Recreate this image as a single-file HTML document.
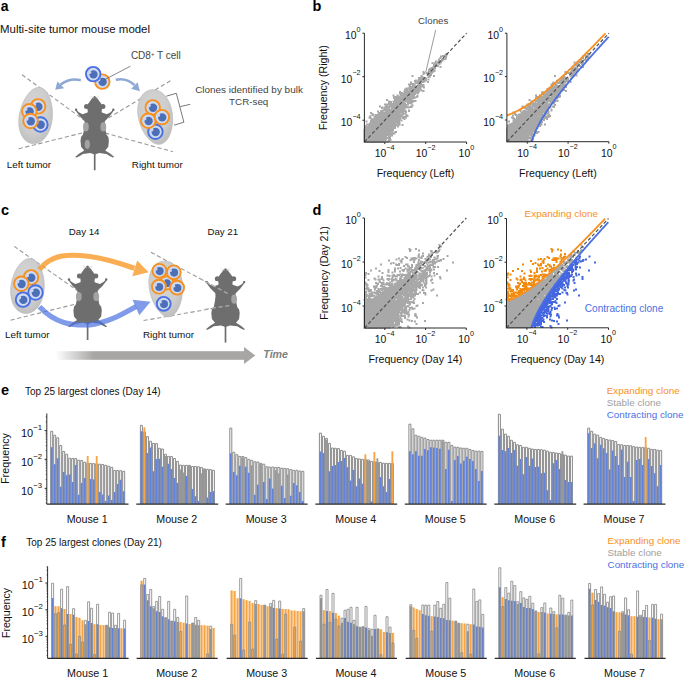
<!DOCTYPE html><html><head><meta charset="utf-8"><title>Figure</title><style>html,body{margin:0;padding:0;background:#fff;width:685px;height:677px;overflow:hidden;}svg{display:block;font-family:"Liberation Sans",sans-serif;}</style></head><body><svg width="685" height="677" viewBox="0 0 685 677" font-family='"Liberation Sans", sans-serif'><defs><radialGradient id="tum" cx="0.45" cy="0.4" r="0.6"><stop offset="0" stop-color="#d6d6d6"/><stop offset="0.7" stop-color="#cdcdcd"/><stop offset="1" stop-color="#c0c0c0"/></radialGradient><linearGradient id="timeg" x1="0" x2="1" y1="0" y2="0"><stop offset="0" stop-color="#a8a5a5" stop-opacity="0"/><stop offset="0.2" stop-color="#a8a5a5" stop-opacity="1"/><stop offset="1" stop-color="#a8a5a5"/></linearGradient><clipPath id="clipA"><rect x="0" y="0" width="310" height="200"/></clipPath></defs><text x="0.8" y="10.8" font-size="14" fill="#000" text-anchor="start" font-weight="bold" font-style="normal" >a</text>
<text x="0" y="32.8" font-size="11.45" fill="#111" text-anchor="start" font-weight="normal" font-style="normal" >Multi-site tumor mouse model</text>
<line x1="22" y1="74.8" x2="84" y2="120" stroke="#999" stroke-width="1.1" stroke-dasharray="4.2,2.6" />
<line x1="18.6" y1="148.8" x2="82" y2="133" stroke="#999" stroke-width="1.1" stroke-dasharray="4.2,2.6" />
<line x1="170.4" y1="80.8" x2="105" y2="120" stroke="#999" stroke-width="1.1" stroke-dasharray="4.2,2.6" />
<line x1="105" y1="133" x2="173" y2="151.7" stroke="#999" stroke-width="1.1" stroke-dasharray="4.2,2.6" />
<path d="M52.34,117.8 L51.9,121.46 L51.17,125.03 L50.17,128.43 L48.89,131.6 L47.35,134.49 L45.59,137.05 L43.61,139.24 L41.47,141.02 L39.19,142.35 L36.83,143.22 L34.44,143.61 L32.06,143.52 L29.75,142.96 L27.56,141.92 L25.53,140.43 L23.71,138.52 L22.14,136.22 L20.84,133.58 L19.85,130.63 L19.17,127.42 L18.82,124.02 L18.79,120.48 L19.07,116.85 L19.66,113.2 L20.53,109.6 L21.65,106.09 L22.99,102.74 L24.53,99.6 L26.22,96.73 L28.05,94.17 L29.97,91.98 L31.95,90.18 L33.96,88.81 L35.98,87.89 L37.98,87.45 L39.94,87.48 L41.83,87.99 L43.62,88.97 L45.31,90.41 L46.87,92.28 L48.28,94.55 L49.52,97.19 L50.57,100.15 L51.41,103.38 L52.03,106.82 L52.39,110.41 L52.5,114.09Z" fill="url(#tum)" stroke="#bcbcbc" stroke-width="0.7" stroke-linejoin="round"/>
<path d="M172.34,114.05 L172.61,117.66 L172.59,121.26 L172.31,124.78 L171.77,128.16 L170.99,131.35 L169.99,134.28 L168.79,136.91 L167.4,139.19 L165.84,141.09 L164.14,142.56 L162.32,143.6 L160.39,144.18 L158.38,144.3 L156.31,143.94 L154.21,143.14 L152.1,141.89 L150.02,140.22 L147.99,138.16 L146.04,135.75 L144.22,133.02 L142.56,130.02 L141.09,126.81 L139.84,123.44 L138.86,119.95 L138.16,116.42 L137.77,112.89 L137.71,109.43 L137.98,106.09 L138.59,102.94 L139.54,100.02 L140.8,97.38 L142.35,95.06 L144.17,93.12 L146.22,91.58 L148.45,90.48 L150.81,89.82 L153.25,89.63 L155.72,89.91 L158.17,90.65 L160.55,91.86 L162.8,93.5 L164.89,95.55 L166.77,97.97 L168.43,100.73 L169.83,103.77 L170.95,107.04 L171.79,110.49Z" fill="url(#tum)" stroke="#bcbcbc" stroke-width="0.7" stroke-linejoin="round"/>
<g><path d="M94.7,95.9 L95.6,96.4 L96.6,97.5 L97.8,99.1 L99.2,100.9 L100.5,102.7 L101.5,104.1 L102,108.9 L101.6,111.5 L101.9,112.5 L106.9,114.2 L110.6,112.2 L112.3,110.5 L113.5,108.9 L114.3,109.7 L113,111.8 L109.6,116.2 L106.9,118.9 L104.9,120.9 L104.7,123.9 L105.3,128.9 L106.4,134.6 L108.3,137.1 L108.9,140.7 L108.3,146.7 L105.8,149.8 L105.2,150.4 L110.1,153.4 L114.3,157 L112.7,157.4 L109.7,155.9 L106.4,154 L99.2,153.1 L94.7,154.6 L90.2,153.1 L83,154 L79.7,155.9 L76.7,157.4 L75.1,157 L79.3,153.4 L84.2,150.4 L83.6,149.8 L81.1,146.7 L80.5,140.7 L81.1,137.1 L83,134.6 L84.1,128.9 L84.7,123.9 L84.5,120.9 L82.5,118.9 L79.8,116.2 L76.4,111.8 L75.1,109.7 L75.9,108.9 L77.1,110.5 L78.8,112.2 L82.5,114.2 L87.5,112.5 L87.8,111.5 L87.4,108.9 L87.9,104.1 L88.9,102.7 L90.2,100.9 L91.6,99.1 L92.8,97.5 L93.8,96.4Z" fill="#6e6e6e"/><circle cx="86.5" cy="106.4" r="2.5" fill="#6e6e6e"/><circle cx="102.9" cy="106.4" r="2.5" fill="#6e6e6e"/><circle cx="76.1" cy="109.8" r="1.2" fill="#6e6e6e"/><circle cx="113.3" cy="109.8" r="1.2" fill="#6e6e6e"/><line x1="94.7" y1="152.9" x2="94.7" y2="170.3" stroke="#6e6e6e" stroke-width="1.7"/><line x1="93.9" y1="97.9" x2="89.7" y2="95.9" stroke="#c8c8c8" stroke-width="0.4"/><line x1="93.9" y1="97.9" x2="89.7" y2="98.3" stroke="#c8c8c8" stroke-width="0.4"/><line x1="95.5" y1="97.9" x2="99.7" y2="95.9" stroke="#c8c8c8" stroke-width="0.4"/><line x1="95.5" y1="97.9" x2="99.7" y2="98.3" stroke="#c8c8c8" stroke-width="0.4"/><ellipse cx="85.9" cy="126.9" rx="2.9" ry="4.6" fill="#a3a3a3"/><ellipse cx="103.3" cy="126.9" rx="2.9" ry="4.6" fill="#a3a3a3"/><ellipse cx="87.3" cy="144.3" rx="2.6" ry="4.6" fill="#a3a3a3"/></g>
<path d="M80.8,80.2 Q70,77.5 60.5,84.6" fill="none" stroke="#8ea8d6" stroke-width="2.6" stroke-linecap="butt"/>
<path d="M55.2,89.8 L57.4,81.6 L64.2,88.2 Z" fill="#8ea8d6"/>
<path d="M115.8,79.8 Q126,77.5 134.5,85" fill="none" stroke="#8ea8d6" stroke-width="2.6"/>
<path d="M139.9,91.3 L131.2,88.8 L137.6,82.2 Z" fill="#8ea8d6"/>
<g><circle cx="102.3" cy="81.6" r="7.25" fill="#cfdbf1" stroke="#f7901e" stroke-width="1.9"/><circle cx="102.6" cy="81.9" r="4.18" fill="#4d6fb8"/><circle cx="98.75" cy="79.72" r="1.67" fill="#c9d5ee"/></g>
<g><circle cx="93.2" cy="74.1" r="7.25" fill="#cfdbf1" stroke="#4a6fe3" stroke-width="1.9"/><circle cx="93.5" cy="74.4" r="4.18" fill="#4d6fb8"/><circle cx="89.65" cy="72.22" r="1.67" fill="#c9d5ee"/></g>
<g><circle cx="40.4" cy="124.5" r="7.25" fill="#cfdbf1" stroke="#4a6fe3" stroke-width="1.9"/><circle cx="40.7" cy="124.8" r="4.18" fill="#4d6fb8"/><circle cx="36.85" cy="122.62" r="1.67" fill="#c9d5ee"/></g>
<g><circle cx="38.1" cy="106.4" r="7.25" fill="#cfdbf1" stroke="#f7901e" stroke-width="1.9"/><circle cx="38.4" cy="106.7" r="4.18" fill="#4d6fb8"/><circle cx="34.55" cy="104.52" r="1.67" fill="#c9d5ee"/></g>
<g><circle cx="29.3" cy="111.2" r="7.25" fill="#cfdbf1" stroke="#f7901e" stroke-width="1.9"/><circle cx="29.6" cy="111.5" r="4.18" fill="#4d6fb8"/><circle cx="25.75" cy="109.32" r="1.67" fill="#c9d5ee"/></g>
<g><circle cx="30.5" cy="121" r="7.25" fill="#cfdbf1" stroke="#f7901e" stroke-width="1.9"/><circle cx="30.8" cy="121.3" r="4.18" fill="#4d6fb8"/><circle cx="26.95" cy="119.12" r="1.67" fill="#c9d5ee"/></g>
<g><circle cx="155.4" cy="131.7" r="7.25" fill="#cfdbf1" stroke="#4a6fe3" stroke-width="1.9"/><circle cx="155.7" cy="132" r="4.18" fill="#4d6fb8"/><circle cx="151.85" cy="129.82" r="1.67" fill="#c9d5ee"/></g>
<g><circle cx="152.7" cy="107.4" r="7.25" fill="#cfdbf1" stroke="#f7901e" stroke-width="1.9"/><circle cx="153" cy="107.7" r="4.18" fill="#4d6fb8"/><circle cx="149.15" cy="105.52" r="1.67" fill="#c9d5ee"/></g>
<g><circle cx="148.3" cy="120.7" r="7.25" fill="#cfdbf1" stroke="#f7901e" stroke-width="1.9"/><circle cx="148.6" cy="121" r="4.18" fill="#4d6fb8"/><circle cx="144.75" cy="118.82" r="1.67" fill="#c9d5ee"/></g>
<g><circle cx="161.9" cy="117.1" r="7.25" fill="#cfdbf1" stroke="#f7901e" stroke-width="1.9"/><circle cx="162.2" cy="117.4" r="4.18" fill="#4d6fb8"/><circle cx="158.35" cy="115.22" r="1.67" fill="#c9d5ee"/></g>
<line x1="130.4" y1="66.2" x2="103.4" y2="80.3" stroke="#555" stroke-width="0.7" />
<path d="M166.3,96.2 L176.3,93.3 L183.9,122.2 L174,125.2 M180.3,106.6 L190.2,104.3" fill="none" stroke="#555" stroke-width="0.8"/>
<text x="130.9" y="58.6" font-size="10.0" fill="#444" text-anchor="start" font-weight="normal" font-style="normal" >CD8<tspan font-size="6" dy="-3.1">+</tspan><tspan dy="3.1"> T cell</tspan></text>
<g clip-path="url(#clipA)">
<text x="249" y="93" font-size="9.95" fill="#444" text-anchor="middle" font-weight="normal" font-style="normal" >Clones identified by bulk</text>
</g>
<text x="248.7" y="105" font-size="9.8" fill="#444" text-anchor="middle" font-weight="normal" font-style="normal" >TCR-seq</text>
<text x="6.7" y="168" font-size="9.9" fill="#111" text-anchor="start" font-weight="normal" font-style="normal" >Left tumor</text>
<text x="131.8" y="168" font-size="9.9" fill="#111" text-anchor="start" font-weight="normal" font-style="normal" >Right tumor</text>
<text x="0.9" y="215" font-size="14.5" fill="#000" text-anchor="start" font-weight="bold" font-style="normal" >c</text>
<text x="68.8" y="235.4" font-size="9.7" fill="#111" text-anchor="start" font-weight="normal" font-style="normal" >Day 14</text>
<text x="207.4" y="234.9" font-size="9.7" fill="#111" text-anchor="start" font-weight="normal" font-style="normal" >Day 21</text>
<line x1="14.2" y1="246.4" x2="78" y2="291" stroke="#999" stroke-width="1.1" stroke-dasharray="4.2,2.6" />
<line x1="10.5" y1="320.2" x2="78" y2="303.5" stroke="#999" stroke-width="1.1" stroke-dasharray="4.2,2.6" />
<line x1="151" y1="252.3" x2="229.3" y2="294.4" stroke="#999" stroke-width="1.1" stroke-dasharray="4.2,2.6" />
<line x1="143.6" y1="320.5" x2="229.3" y2="305.6" stroke="#999" stroke-width="1.1" stroke-dasharray="4.2,2.6" />
<path d="M44.21,287.74 L43.9,291.33 L43.31,294.82 L42.43,298.17 L41.27,301.3 L39.84,304.17 L38.16,306.72 L36.26,308.92 L34.17,310.71 L31.94,312.08 L29.6,313.01 L27.21,313.46 L24.82,313.45 L22.47,312.97 L20.23,312.02 L18.13,310.63 L16.23,308.83 L14.56,306.64 L13.16,304.1 L12.05,301.25 L11.25,298.15 L10.76,294.84 L10.59,291.38 L10.74,287.84 L11.19,284.26 L11.92,280.72 L12.91,277.26 L14.14,273.95 L15.56,270.85 L17.16,268 L18.89,265.45 L20.74,263.25 L22.66,261.44 L24.63,260.04 L26.63,259.08 L28.62,258.58 L30.58,258.55 L32.5,258.99 L34.35,259.89 L36.1,261.24 L37.74,263.02 L39.24,265.2 L40.59,267.73 L41.76,270.58 L42.72,273.7 L43.47,277.04 L43.98,280.53 L44.23,284.12Z" fill="url(#tum)" stroke="#bcbcbc" stroke-width="0.7" stroke-linejoin="round"/>
<path d="M182.71,287.26 L182.63,290.95 L182.28,294.6 L181.7,298.15 L180.89,301.53 L179.88,304.7 L178.71,307.59 L177.38,310.16 L175.92,312.36 L174.35,314.15 L172.68,315.51 L170.94,316.42 L169.13,316.85 L167.27,316.8 L165.37,316.28 L163.46,315.3 L161.55,313.87 L159.67,312.02 L157.83,309.79 L156.08,307.2 L154.44,304.31 L152.94,301.17 L151.63,297.82 L150.53,294.32 L149.69,290.74 L149.13,287.12 L148.88,283.53 L148.95,280.04 L149.37,276.69 L150.12,273.55 L151.22,270.67 L152.63,268.09 L154.34,265.86 L156.3,264.03 L158.48,262.62 L160.82,261.65 L163.27,261.15 L165.77,261.13 L168.26,261.59 L170.69,262.52 L172.99,263.9 L175.12,265.73 L177.04,267.95 L178.71,270.55 L180.11,273.46 L181.21,276.65 L182.01,280.05 L182.51,283.61Z" fill="url(#tum)" stroke="#bcbcbc" stroke-width="0.7" stroke-linejoin="round"/>
<path d="M39.5,269.5 C52,253.5 70,254 90,256.5 C108,259 122,264 134.5,268.3" fill="none" stroke="#f99a28" stroke-opacity="0.8" stroke-width="5.2"/>
<path d="M148.6,272.3 L137.2,260.6 L132.3,276.2 Z" fill="#f99a28" fill-opacity="0.8"/>
<g><path d="M87.6,265.6 L88.5,266.1 L89.5,267.2 L90.7,268.8 L92.1,270.6 L93.4,272.4 L94.4,273.8 L94.9,278.6 L94.5,281.2 L94.8,282.2 L99.8,283.9 L103.5,281.9 L105.2,280.2 L106.4,278.6 L107.2,279.4 L105.9,281.5 L102.5,285.9 L99.8,288.6 L97.8,290.6 L97.6,293.6 L98.2,298.6 L99.3,304.3 L101.2,306.8 L101.8,310.4 L101.2,316.4 L98.7,319.5 L98.1,320.1 L103,323.1 L107.2,326.7 L105.6,327.1 L102.6,325.6 L99.3,323.7 L92.1,322.8 L87.6,324.3 L83.1,322.8 L75.9,323.7 L72.6,325.6 L69.6,327.1 L68,326.7 L72.2,323.1 L77.1,320.1 L76.5,319.5 L74,316.4 L73.4,310.4 L74,306.8 L75.9,304.3 L77,298.6 L77.6,293.6 L77.4,290.6 L75.4,288.6 L72.7,285.9 L69.3,281.5 L68,279.4 L68.8,278.6 L70,280.2 L71.7,281.9 L75.4,283.9 L80.4,282.2 L80.7,281.2 L80.3,278.6 L80.8,273.8 L81.8,272.4 L83.1,270.6 L84.5,268.8 L85.7,267.2 L86.7,266.1Z" fill="#6e6e6e"/><circle cx="79.4" cy="276.1" r="2.5" fill="#6e6e6e"/><circle cx="95.8" cy="276.1" r="2.5" fill="#6e6e6e"/><circle cx="69" cy="279.5" r="1.2" fill="#6e6e6e"/><circle cx="106.2" cy="279.5" r="1.2" fill="#6e6e6e"/><line x1="87.6" y1="322.6" x2="87.6" y2="340" stroke="#6e6e6e" stroke-width="1.7"/><line x1="86.8" y1="267.6" x2="82.6" y2="265.6" stroke="#c8c8c8" stroke-width="0.4"/><line x1="86.8" y1="267.6" x2="82.6" y2="268" stroke="#c8c8c8" stroke-width="0.4"/><line x1="88.4" y1="267.6" x2="92.6" y2="265.6" stroke="#c8c8c8" stroke-width="0.4"/><line x1="88.4" y1="267.6" x2="92.6" y2="268" stroke="#c8c8c8" stroke-width="0.4"/><ellipse cx="78.8" cy="296.6" rx="2.9" ry="4.6" fill="#a3a3a3"/><ellipse cx="96.2" cy="296.6" rx="2.9" ry="4.6" fill="#a3a3a3"/></g>
<g><path d="M225.5,268.2 L226.4,268.7 L227.4,269.8 L228.6,271.4 L230,273.2 L231.3,275 L232.3,276.4 L232.8,281.2 L232.4,283.8 L232.7,284.8 L237.7,286.5 L241.4,284.5 L243.1,282.8 L244.3,281.2 L245.1,282 L243.8,284.1 L240.4,288.5 L237.7,291.2 L235.7,293.2 L235.5,296.2 L236.1,301.2 L237.2,306.9 L239.1,309.4 L239.7,313 L239.1,319 L236.6,322.1 L236,322.7 L240.9,325.7 L245.1,329.3 L243.5,329.7 L240.5,328.2 L237.2,326.3 L230,325.4 L225.5,326.9 L221,325.4 L213.8,326.3 L210.5,328.2 L207.5,329.7 L205.9,329.3 L210.1,325.7 L215,322.7 L214.4,322.1 L211.9,319 L211.3,313 L211.9,309.4 L213.8,306.9 L214.9,301.2 L215.5,296.2 L215.3,293.2 L213.3,291.2 L210.6,288.5 L207.2,284.1 L205.9,282 L206.7,281.2 L207.9,282.8 L209.6,284.5 L213.3,286.5 L218.3,284.8 L218.6,283.8 L218.2,281.2 L218.7,276.4 L219.7,275 L221,273.2 L222.4,271.4 L223.6,269.8 L224.6,268.7Z" fill="#6e6e6e"/><circle cx="217.3" cy="278.7" r="2.5" fill="#6e6e6e"/><circle cx="233.7" cy="278.7" r="2.5" fill="#6e6e6e"/><circle cx="206.9" cy="282.1" r="1.2" fill="#6e6e6e"/><circle cx="244.1" cy="282.1" r="1.2" fill="#6e6e6e"/><line x1="225.5" y1="325.2" x2="225.5" y2="342.6" stroke="#6e6e6e" stroke-width="1.7"/><line x1="224.7" y1="270.2" x2="220.5" y2="268.2" stroke="#c8c8c8" stroke-width="0.4"/><line x1="224.7" y1="270.2" x2="220.5" y2="270.6" stroke="#c8c8c8" stroke-width="0.4"/><line x1="226.3" y1="270.2" x2="230.5" y2="268.2" stroke="#c8c8c8" stroke-width="0.4"/><line x1="226.3" y1="270.2" x2="230.5" y2="270.6" stroke="#c8c8c8" stroke-width="0.4"/><ellipse cx="234.1" cy="299.2" rx="2.9" ry="4.6" fill="#a3a3a3"/></g>
<line x1="200" y1="278.5" x2="229.3" y2="294.4" stroke="#b5b5b5" stroke-width="1.1" stroke-dasharray="4.2,2.6" />
<line x1="205" y1="309.2" x2="229.3" y2="305.6" stroke="#b5b5b5" stroke-width="1.1" stroke-dasharray="4.2,2.6" />
<path d="M39.5,306.8 C55,323.5 72,325.8 90,324.8 C108,322.8 122,314.2 136,306.5" fill="none" stroke="#4870e0" stroke-opacity="0.7" stroke-width="5.2"/>
<path d="M150.5,301.7 L132.5,299.8 L139.3,315.3 Z" fill="#4870e0" fill-opacity="0.7"/>
<g><circle cx="31" cy="277.4" r="7.25" fill="#cfdbf1" stroke="#f7901e" stroke-width="1.9"/><circle cx="31.3" cy="277.7" r="4.18" fill="#4d6fb8"/><circle cx="27.45" cy="275.52" r="1.67" fill="#c9d5ee"/></g>
<g><circle cx="21.3" cy="283.7" r="7.25" fill="#cfdbf1" stroke="#f7901e" stroke-width="1.9"/><circle cx="21.6" cy="284" r="4.18" fill="#4d6fb8"/><circle cx="17.75" cy="281.82" r="1.67" fill="#c9d5ee"/></g>
<g><circle cx="35.5" cy="292.5" r="7.25" fill="#cfdbf1" stroke="#4a6fe3" stroke-width="1.9"/><circle cx="35.8" cy="292.8" r="4.18" fill="#4d6fb8"/><circle cx="31.95" cy="290.62" r="1.67" fill="#c9d5ee"/></g>
<g><circle cx="23" cy="299.6" r="7.25" fill="#cfdbf1" stroke="#4a6fe3" stroke-width="1.9"/><circle cx="23.3" cy="299.9" r="4.18" fill="#4d6fb8"/><circle cx="19.45" cy="297.72" r="1.67" fill="#c9d5ee"/></g>
<g><circle cx="166.6" cy="282.9" r="6.65" fill="#cfdbf1" stroke="#f7901e" stroke-width="1.9"/><circle cx="166.9" cy="283.2" r="3.88" fill="#4d6fb8"/><circle cx="163.31" cy="281.16" r="1.55" fill="#c9d5ee"/></g>
<g><circle cx="159.4" cy="270.8" r="6.95" fill="#cfdbf1" stroke="#f7901e" stroke-width="1.9"/><circle cx="159.7" cy="271.1" r="4.03" fill="#4d6fb8"/><circle cx="155.98" cy="268.99" r="1.61" fill="#c9d5ee"/></g>
<g><circle cx="173.8" cy="272.3" r="6.95" fill="#cfdbf1" stroke="#f7901e" stroke-width="1.9"/><circle cx="174.1" cy="272.6" r="4.03" fill="#4d6fb8"/><circle cx="170.38" cy="270.49" r="1.61" fill="#c9d5ee"/></g>
<g><circle cx="158.9" cy="286.7" r="6.95" fill="#cfdbf1" stroke="#f7901e" stroke-width="1.9"/><circle cx="159.2" cy="287" r="4.03" fill="#4d6fb8"/><circle cx="155.48" cy="284.89" r="1.61" fill="#c9d5ee"/></g>
<g><circle cx="177.1" cy="287.7" r="6.95" fill="#cfdbf1" stroke="#f7901e" stroke-width="1.9"/><circle cx="177.4" cy="288" r="4.03" fill="#4d6fb8"/><circle cx="173.68" cy="285.89" r="1.61" fill="#c9d5ee"/></g>
<g><circle cx="163.7" cy="303.8" r="6.95" fill="#cfdbf1" stroke="#4a6fe3" stroke-width="1.9"/><circle cx="164" cy="304.1" r="4.03" fill="#4d6fb8"/><circle cx="160.28" cy="301.99" r="1.61" fill="#c9d5ee"/></g>
<text x="5.1" y="337.8" font-size="9.9" fill="#111" text-anchor="start" font-weight="normal" font-style="normal" >Left tumor</text>
<text x="142.9" y="337.9" font-size="9.9" fill="#111" text-anchor="start" font-weight="normal" font-style="normal" >Right tumor</text>
<rect x="56" y="351.2" width="189" height="8.6" fill="url(#timeg)"/>
<path d="M244,347 L255.3,355.5 L244,364 Z" fill="#a8a5a5"/>
<text x="263.3" y="358.3" font-size="10.7" fill="#7f7f7f" text-anchor="start" font-weight="bold" font-style="italic" >Time</text>
<text x="312.6" y="10.7" font-size="14.5" fill="#000" text-anchor="start" font-weight="bold" font-style="normal" >b</text>
<path d="M446 53h2v0.5h-2zM445 53.5h3v1h-3zM444 54.5h4v0.5h-4zM442 55h5.5v0.5h-5.5zM440 55.5h7.5v1h-7.5zM440 56.5h4v0.5h-4zM439.5 57h2.5v0.5h-2.5zM445 56.5h2v1.5h-2zM439.5 57.5h2v1h-2zM444.5 58h2.5v0.5h-2.5zM438 58.5h3.5v0.5h-3.5zM442.5 58.5h4v0.5h-4zM441 59h5.5v1h-5.5zM441 60h3.5v0.5h-3.5zM438 59h2v1.5h-2zM435 60.5h2v1h-2zM437.5 60.5h6v1h-6zM435 61.5h7v0.5h-7zM434 62h8v0.5h-8zM436.5 62.5h5.5v0.5h-5.5zM434 62.5h2v0.5h-2zM434 63h8v0.5h-8zM431.5 62h2v1.5h-2zM437.5 63.5h3v0.5h-3zM431.5 63.5h5.5v0.5h-5.5zM433 64h4.5v1h-4.5zM438.5 64h2v1h-2zM433 65h6v1.5h-6zM435.5 66.5h3.5v0.5h-3.5zM432 66.5h3v0.5h-3zM430.5 67h5v0.5h-5zM439.5 66h2v2h-2zM430.5 67.5h5.5v0.5h-5.5zM429 68h7v1h-7zM428 69h8v0.5h-8zM428 69.5h6.5v0.5h-6.5zM428 70h7.5v1.5h-7.5zM427.5 71.5h8v0.5h-8zM422.5 71h2v1h-2zM426 72h8.5v0.5h-8.5zM426 72.5h7v1h-7zM422.5 72h3v2h-3zM426 73.5h6.5v0.5h-6.5zM427.5 74h4.5v1h-4.5zM422.5 74h2v1h-2zM420.5 75h2v1h-2zM428 75h4v1h-4zM433 75h2v2h-2zM411.5 75h2v2h-2zM420.5 76h3v1h-3zM427.5 76h3.5v1.5h-3.5zM427.5 77.5h2v0.5h-2zM418 77h6.5v1.5h-6.5zM425 77.5h2v1h-2zM418 78.5h9v1h-9zM415 79.5h2v0.5h-2zM417.5 79.5h9.5v1h-9.5zM427.5 78.5h2v2h-2zM414 80h3v0.5h-3zM414 80.5h13v0.5h-13zM414 81h15v0.5h-15zM414 81.5h2v0.5h-2zM416.5 81.5h9v0.5h-9zM414.5 82h6.5v0.5h-6.5zM422 82h3.5v0.5h-3.5zM427 81.5h2v1.5h-2zM414.5 82.5h9.5v0.5h-9.5zM410 81.5h2v1.5h-2zM410 83h4v0.5h-4zM414.5 83h7.5v0.5h-7.5zM408 83.5h14v0.5h-14zM408 84h7.5v1h-7.5zM408 85h3v0.5h-3zM412 85h3.5v0.5h-3.5zM412 85.5h4.5v0.5h-4.5zM409 85.5h2v0.5h-2zM417.5 84h7v2.5h-7zM409 86h7.5v0.5h-7.5zM417.5 86.5h7.5v0.5h-7.5zM408.5 86.5h8v0.5h-8zM408.5 87h16.5v0.5h-16.5zM405.5 87.5h16v1h-16zM423 87.5h2v1h-2zM404 88.5h17.5v1h-17.5zM409 89.5h13.5v0.5h-13.5zM404 89.5h4.5v1h-4.5zM409 90h15.5v0.5h-15.5zM420.5 90.5h4v1h-4zM422.5 91.5h2v0.5h-2zM399 91h2v1h-2zM403.5 90.5h16.5v2h-16.5zM399 92h4v1h-4zM403.5 92.5h15.5v0.5h-15.5zM399 93h20v0.5h-20zM399 93.5h17.5v0.5h-17.5zM417 93.5h2v0.5h-2zM399 94h17v0.5h-17zM400 94.5h16v0.5h-16zM396.5 94.5h2v1h-2zM400 95h15v0.5h-15zM392.5 94.5h2v1.5h-2zM416.5 94.5h2v1.5h-2zM396.5 95.5h18.5v0.5h-18.5zM392.5 96h22.5v0.5h-22.5zM408.5 96.5h6.5v0.5h-6.5zM402 96.5h5.5v0.5h-5.5zM393 96.5h8.5v0.5h-8.5zM415.5 96h3v1h-3zM393 97h25.5v0.5h-25.5zM393 97.5h24.5v0.5h-24.5zM393 98h22.5v1h-22.5zM394 99h19.5v0.5h-19.5zM394 99.5h18.5v0.5h-18.5zM394 100h22.5v0.5h-22.5zM386 99h2v1.5h-2zM386 100.5h4v0.5h-4zM392.5 100.5h24v1.5h-24zM392.5 102h12.5v0.5h-12.5zM406 102h7.5v0.5h-7.5zM393 102.5h13v0.5h-13zM407 102.5h6.5v0.5h-6.5zM388 101h4v2h-4zM388 103h18v0.5h-18zM407 103h5.5v1h-5.5zM384 103.5h22v0.5h-22zM410.5 104h2v0.5h-2zM384 104h25v1h-25zM389 105h20v0.5h-20zM384 105h4.5v0.5h-4.5zM411.5 104.5h2v1h-2zM410 105.5h3.5v0.5h-3.5zM385.5 105.5h3v0.5h-3zM389 105.5h18v0.5h-18zM409.5 106h4v0.5h-4zM384.5 106h24v0.5h-24zM379 105.5h2v1.5h-2zM384.5 106.5h28v0.5h-28zM381.5 106.5h2v0.5h-2zM379 107h4.5v0.5h-4.5zM384 107h28.5v0.5h-28.5zM391 107.5h21.5v0.5h-21.5zM381 107.5h9.5v1h-9.5zM391 108h16v0.5h-16zM407.5 108h2v0.5h-2zM381 108.5h2v0.5h-2zM391 108.5h14.5v0.5h-14.5zM383.5 108.5h6.5v0.5h-6.5zM383.5 109h22v0.5h-22zM382 109.5h23.5v0.5h-23.5zM380 110h26.5v1h-26.5zM380 111h4v0.5h-4zM408 109.5h2v2.5h-2zM380 111.5h3.5v0.5h-3.5zM384.5 111h22.5v1h-22.5zM377 110.5h2v1.5h-2zM405 112h2v0.5h-2zM377 112h27v0.5h-27zM370 112h2v1h-2zM378 112.5h29v0.5h-29zM378 113h28.5v0.5h-28.5zM377.5 113.5h23v0.5h-23zM401.5 113.5h5v0.5h-5zM370 113h3.5v1h-3.5zM375 114h32.5v0.5h-32.5zM405.5 114.5h2v0.5h-2zM371.5 114h3v1h-3zM375 114.5h29v1h-29zM405.5 115h3v0.5h-3zM375 115.5h27.5v0.5h-27.5zM372 115h2.5v1h-2.5zM404.5 115.5h4v0.5h-4zM369.5 115h2v1.5h-2zM373.5 116h35v1h-35zM373.5 117h33.5v0.5h-33.5zM368.5 116.5h3v1.5h-3zM368.5 118h4v0.5h-4zM373.5 117.5h27.5v1h-27.5zM401.5 117.5h5.5v1h-5.5zM401.5 118.5h4v0.5h-4zM369.5 118.5h31.5v0.5h-31.5zM370.5 119h30.5v0.5h-30.5zM370.5 119.5h32v0.5h-32zM403.5 119h2v1h-2zM370 120h32.5v0.5h-32.5zM370 120.5h30v1h-30zM400.5 120.5h2v1h-2zM370 121.5h30.5v1h-30.5zM365.5 120.5h2v2h-2zM369 122.5h31.5v1h-31.5zM366 123.5h30.5v0.5h-30.5zM397 123.5h3.5v0.5h-3.5zM366 124h34.5v1h-34.5zM364.5 125h32.5v0.5h-32.5zM397.5 125h3v0.5h-3zM367.5 125.5h32v0.5h-32zM364.5 125.5h2v0.5h-2zM401.5 124h2v2h-2zM364.5 126h32v1h-32zM397 126h2v1.5h-2zM364 127h32v2h-32zM363.5 129h30.5v2h-30.5zM363.5 131h30v0.5h-30zM395 131h2v0.5h-2zM393.5 131.5h3.5v1h-3.5zM363.5 131.5h29.5v1h-29.5zM391.5 132.5h5.5v0.5h-5.5zM363.5 132.5h27.5v0.5h-27.5zM363.5 133h32v1.5h-32zM363.5 134.5h29.5v0.5h-29.5zM363.5 135h27v0.5h-27zM391 135h2v0.5h-2zM363.5 135.5h29.5v0.5h-29.5zM387.5 136h5.5v0.5h-5.5zM388 136.5h3v0.5h-3zM363.5 136h23.5v1h-23.5zM363.5 137h27.5v2h-27.5zM363.5 139h23.5v1h-23.5zM363.5 140h22.5v0.5h-22.5zM388 139h3.5v1.5h-3.5zM363.5 140.5h28v0.5h-28zM363.5 141h26.5v0.5h-26.5zM385.5 141.5h4.5v0.5h-4.5zM385.5 142h3.5v0.5h-3.5zM363.5 141.5h21v1h-21zM363.5 142.5h18.5v0.5h-18.5zM382.5 142.5h2v0.5h-2z" fill="#a8a8a8"/>
<line x1="364.4" y1="142" x2="466.6" y2="33.2" stroke="#505050" stroke-width="1.2" stroke-dasharray="3.5,2.2" />
<path d="M364.4,33.2 V142 H466.6" fill="none" stroke="#2a2a2a" stroke-width="1"/>
<line x1="362.4" y1="33.2" x2="364.4" y2="33.2" stroke="#2a2a2a" stroke-width="1" />
<line x1="466.6" y1="142" x2="466.6" y2="144" stroke="#2a2a2a" stroke-width="1" />
<line x1="362.4" y1="76.72" x2="364.4" y2="76.72" stroke="#2a2a2a" stroke-width="1" />
<line x1="425.72" y1="142" x2="425.72" y2="144" stroke="#2a2a2a" stroke-width="1" />
<line x1="362.4" y1="120.24" x2="364.4" y2="120.24" stroke="#2a2a2a" stroke-width="1" />
<line x1="384.84" y1="142" x2="384.84" y2="144" stroke="#2a2a2a" stroke-width="1" />
<text x="360.6" y="39" font-size="10.4" fill="#111" text-anchor="end">10<tspan font-size="7.2" dy="-7.28">0</tspan></text>
<text x="466.4" y="156.8" font-size="10.4" fill="#111" text-anchor="middle">10<tspan font-size="7.2" dy="-7.28">0</tspan></text>
<text x="360.6" y="82.52" font-size="10.4" fill="#111" text-anchor="end">10<tspan font-size="7.2" dy="-7.28">−2</tspan></text>
<text x="425.52" y="156.8" font-size="10.4" fill="#111" text-anchor="middle">10<tspan font-size="7.2" dy="-7.28">−2</tspan></text>
<text x="360.6" y="126.04" font-size="10.4" fill="#111" text-anchor="end">10<tspan font-size="7.2" dy="-7.28">−4</tspan></text>
<text x="384.64" y="156.8" font-size="10.4" fill="#111" text-anchor="middle">10<tspan font-size="7.2" dy="-7.28">−4</tspan></text>
<text x="415.5" y="177.3" font-size="10.6" fill="#111" text-anchor="middle" font-weight="normal" font-style="normal" >Frequency (Left)</text>
<text x="327.5" y="87.6" font-size="10.6" fill="#111" text-anchor="middle" transform="rotate(-90 327.5 87.6)">Frequency (Right)</text>
<path d="M587 53h3.5v1.5h-3.5zM586.5 54.5h4v0.5h-4zM584.5 55h5v1.5h-5zM584.5 56.5h2v0.5h-2zM587 56.5h2v2h-2zM582 55.5h2v3h-2zM585 58.5h4v0.5h-4zM580.5 58.5h3.5v0.5h-3.5zM583.5 59h5.5v1h-5.5zM580.5 59h2v1.5h-2zM583.5 60h3.5v0.5h-3.5zM580 60.5h6v0.5h-6zM577.5 60.5h2v0.5h-2zM577.5 61h6.5v1h-6.5zM576 62h8v0.5h-8zM578.5 62.5h5.5v0.5h-5.5zM576 62.5h2v0.5h-2zM580 63h4v0.5h-4zM573.5 61.5h2v2h-2zM576 63h3.5v0.5h-3.5zM580 63.5h3v0.5h-3zM575 63.5h4.5v1h-4.5zM575 64.5h5v0.5h-5zM581 64h2v1h-2zM575 65h6v1h-6zM577.5 66h3.5v0.5h-3.5zM579 66.5h2v0.5h-2zM574 66.5h3.5v0.5h-3.5zM573 67h5v0.5h-5zM573 67.5h5.5v0.5h-5.5zM582 66h2v2h-2zM571.5 68h7v0.5h-7zM570.5 68.5h8v1h-8zM570.5 69.5h7.5v1.5h-7.5zM564.5 71h2v1h-2zM570 71h8v1h-8zM564.5 72h12.5v0.5h-12.5zM564.5 72.5h11v0.5h-11zM565 73h10.5v0.5h-10.5zM565 73.5h9.5v0.5h-9.5zM565 74h2v1h-2zM570 74h4v1h-4zM570.5 75h3.5v0.5h-3.5zM563 75h2v1h-2zM569.5 75.5h4.5v0.5h-4.5zM563 76h2.5v0.5h-2.5zM575.5 74.5h2v2h-2zM554 75h2v2h-2zM562.5 76.5h3v0.5h-3zM569.5 76h4v1.5h-4zM560.5 77h6.5v0.5h-6.5zM560.5 77.5h8.5v2h-8.5zM557.5 79h2v1h-2zM570 78h2v2h-2zM560 79.5h9v1h-9zM556 80h3.5v0.5h-3.5zM556 80.5h13v0.5h-13zM556 81h2v0.5h-2zM559 81h10v0.5h-10zM556 81.5h12v0.5h-12zM552.5 81.5h2v1h-2zM557 82h11v0.5h-11zM557 82.5h9v0.5h-9zM569.5 81h2v2h-2zM557 83h7.5v0.5h-7.5zM552 82.5h4.5v1h-4.5zM558 83.5h8.5v0.5h-8.5zM550.5 83.5h3.5v1h-3.5zM554.5 83.5h3v1.5h-3zM560 84h6.5v1.5h-6.5zM554.5 85h4v0.5h-4zM550.5 84.5h3v1h-3zM554 85.5h4.5v0.5h-4.5zM551.5 85.5h2v0.5h-2zM560 85.5h7v1h-7zM550.5 86h8.5v0.5h-8.5zM550.5 86.5h16.5v1h-16.5zM565 87.5h2v0.5h-2zM548 87.5h16v0.5h-16zM546.5 88h17.5v1h-17.5zM546.5 89h16v1h-16zM563 89h2v1h-2zM563 90h4v1h-4zM565 91h2v1h-2zM541.5 91h2v1h-2zM546 90h16.5v2h-16.5zM541.5 92h3.5v0.5h-3.5zM546 92h15v0.5h-15zM541 92.5h20v1h-20zM541 93.5h18v0.5h-18zM541 94h17.5v0.5h-17.5zM542.5 94.5h15.5v0.5h-15.5zM539 94.5h2v1h-2zM539 95.5h3v0.5h-3zM542.5 95h15v1h-15zM535 94.5h2v1.5h-2zM559 94.5h2v1.5h-2zM535 96h15.5v0.5h-15.5zM535.5 96.5h14.5v0.5h-14.5zM551 96h6.5v1h-6.5zM558 96h3v1h-3zM535 97h26v0.5h-26zM535 97.5h25v0.5h-25zM535 98h23v1h-23zM536.5 99h19.5v0.5h-19.5zM536.5 99.5h22v0.5h-22zM528.5 99h2v1.5h-2zM528.5 100.5h6v0.5h-6zM535 100h23.5v1.5h-23.5zM535 101.5h21v0.5h-21zM556.5 101.5h2v0.5h-2zM530.5 101h4v1.5h-4zM535 102h13.5v0.5h-13.5zM549.5 102h6.5v0.5h-6.5zM537 102.5h11.5v0.5h-11.5zM534 102.5h2v0.5h-2zM530.5 102.5h3v0.5h-3zM529 103h19.5v0.5h-19.5zM549.5 102.5h5.5v1h-5.5zM526.5 103.5h28.5v0.5h-28.5zM553 104h3v0.5h-3zM526.5 104h25v1h-25zM526.5 105h4.5v0.5h-4.5zM531.5 105h20v0.5h-20zM554 104.5h2v1h-2zM531.5 105.5h17.5v0.5h-17.5zM528 105.5h3v0.5h-3zM552 105.5h4v0.5h-4zM527 106h23.5v0.5h-23.5zM526.5 106.5h25v0.5h-25zM524 106.5h2v0.5h-2zM521.5 105.5h2v1.5h-2zM521.5 107h11.5v0.5h-11.5zM552 106h3v1.5h-3zM553 107.5h2v0.5h-2zM533.5 107h18v1.5h-18zM523.5 107.5h9.5v1h-9.5zM523.5 108.5h24.5v0.5h-24.5zM526 109h21.5v0.5h-21.5zM524.5 109.5h23v0.5h-23zM522.5 110h26.5v0.5h-26.5zM527.5 110.5h21.5v0.5h-21.5zM522.5 110.5h4v0.5h-4zM550.5 109h2v2.5h-2zM522.5 111h27v0.5h-27zM519.5 110h2v1.5h-2zM519.5 111.5h27v0.5h-27zM547 111.5h2.5v0.5h-2.5zM547.5 112h2v0.5h-2zM520.5 112h26v0.5h-26zM520.5 112.5h29v0.5h-29zM512.5 111.5h2v1.5h-2zM520.5 113h28.5v0.5h-28.5zM512.5 113h3.5v0.5h-3.5zM544 113.5h6v0.5h-6zM514 113.5h2.5v0.5h-2.5zM517.5 113.5h25.5v0.5h-25.5zM517.5 114h32.5v0.5h-32.5zM514 114h3v0.5h-3zM512 114.5h5v0.5h-5zM548 114.5h2v0.5h-2zM517.5 114.5h29v1h-29zM514.5 115h2.5v0.5h-2.5zM515 115.5h31.5v0.5h-31.5zM547 115h4v1h-4zM512 115h2v1.5h-2zM516 116h35v0.5h-35zM539 116.5h12v0.5h-12zM511 116.5h2v0.5h-2zM516 116.5h22.5v0.5h-22.5zM511 117h3v0.5h-3zM516 117h33.5v1h-33.5zM511 117.5h4v1h-4zM516 118h32v0.5h-32zM544 118.5h4v0.5h-4zM512 118.5h31.5v0.5h-31.5zM513 119h32v0.5h-32zM546 119h2v1h-2zM512.5 119.5h32.5v0.5h-32.5zM543 120h2v1h-2zM512.5 120h30v1h-30zM512.5 121h30.5v1.5h-30.5zM508 120.5h2v2h-2zM511.5 122.5h31.5v0.5h-31.5zM510.5 123h31.5v0.5h-31.5zM508.5 123.5h34v1h-34zM544 123.5h2v2h-2zM507 124.5h35.5v1h-35.5zM507 125.5h34v1.5h-34zM506.5 127h32v1.5h-32zM506 128.5h32.5v0.5h-32.5zM506 129h30.5v1.5h-30.5zM506 130.5h30v0.5h-30zM506 131h29.5v0.5h-29.5zM536 131h3.5v1h-3.5zM506 131.5h29v0.5h-29zM534 132h5.5v1h-5.5zM506 132h27.5v1h-27.5zM506 133h32v1h-32zM506 134h28v0.5h-28zM506 134.5h29.5v0.5h-29.5zM506 135h27v0.5h-27zM530 135.5h3v0.5h-3zM506 135.5h23.5v1h-23.5zM530.5 136h2.5v0.5h-2.5zM533.5 135h2v1.5h-2zM506 136.5h27v0.5h-27zM506 137h27.5v1.5h-27.5zM506 138.5h28v0.5h-28zM506 139h23.5v0.5h-23.5zM530 139h4v0.5h-4zM530.5 139.5h3.5v0.5h-3.5zM506 139.5h22.5v1h-22.5zM529.5 140h4.5v0.5h-4.5zM506 140.5h26.5v0.5h-26.5zM528 141h4.5v1h-4.5zM506 141h21v1.5h-21zM528 142h2v0.5h-2z" fill="#a8a8a8"/>
<line x1="506.9" y1="141.7" x2="608.9" y2="33.2" stroke="#505050" stroke-width="1.2" stroke-dasharray="3.5,2.2" />
<path d="M506.9,115.41 L507.76,115.11 L508.61,114.79 L509.47,114.46 L510.33,114.12 L511.19,113.77 L512.04,113.4 L512.9,113.03 L513.76,112.64 L514.61,112.24 L515.47,111.83 L516.33,111.41 L517.19,110.98 L518.04,110.53 L518.9,110.08 L519.76,109.61 L520.61,109.14 L521.47,108.65 L522.33,108.15 L523.19,107.64 L524.04,107.12 L524.9,106.59 L525.76,106.05 L526.61,105.51 L527.47,104.95 L528.33,104.38 L529.19,103.8 L530.04,103.22 L530.9,102.62 L531.76,102.02 L532.61,101.41 L533.47,100.79 L534.33,100.17 L535.19,99.53 L536.04,98.89 L536.9,98.24 L537.76,97.59 L538.61,96.92 L539.47,96.25 L540.33,95.58 L541.19,94.9 L542.04,94.21 L542.9,93.51 L543.76,92.81 L544.61,92.11 L545.47,91.39 L546.33,90.68 L547.19,89.95 L548.04,89.23 L548.9,88.49 L549.76,87.76 L550.61,87.01 L551.47,86.27 L552.33,85.52 L553.19,84.76 L554.04,84 L554.9,83.23 L555.76,82.47 L556.61,81.69 L557.47,80.92 L558.33,80.14 L559.19,79.35 L560.04,78.56 L560.9,77.77 L561.76,76.98 L562.61,76.18 L563.47,75.38 L564.33,74.57 L565.19,73.76 L566.04,72.95 L566.9,72.14 L567.76,71.32 L568.61,70.5 L569.47,69.68 L570.33,68.85 L571.19,68.03 L572.04,67.2 L572.9,66.36 L573.76,65.53 L574.61,64.69 L575.47,63.85 L576.33,63.01 L577.19,62.16 L578.04,61.32 L578.9,60.47 L579.76,59.62 L580.61,58.77 L581.47,57.91 L582.33,57.05 L583.19,56.2 L584.04,55.34 L584.9,54.48 L585.76,53.61 L586.61,52.75 L587.47,51.88 L588.33,51.01 L589.19,50.14 L590.04,49.27 L590.9,48.4 L591.76,47.53 L592.61,46.65 L593.47,45.78 L594.33,44.9 L595.19,44.02 L596.04,43.14 L596.9,42.26 L597.76,41.38 L598.61,40.5 L599.47,39.61 L600.33,38.73 L601.19,37.84 L602.04,36.96 L602.9,36.07 L603.76,35.18 L604.61,34.29 L605.47,33.4" fill="none" stroke="#f7901e" stroke-width="1.8"/>
<path d="M531.61,141.7 L531.9,140.79 L532.2,139.88 L532.51,138.96 L532.83,138.05 L533.16,137.14 L533.5,136.23 L533.86,135.32 L534.22,134.41 L534.59,133.49 L534.98,132.58 L535.38,131.67 L535.78,130.76 L536.2,129.85 L536.63,128.94 L537.07,128.02 L537.51,127.11 L537.97,126.2 L538.44,125.29 L538.92,124.38 L539.41,123.46 L539.9,122.55 L540.41,121.64 L540.93,120.73 L541.45,119.82 L541.98,118.91 L542.53,117.99 L543.08,117.08 L543.63,116.17 L544.2,115.26 L544.77,114.35 L545.36,113.44 L545.95,112.52 L546.54,111.61 L547.14,110.7 L547.75,109.79 L548.37,108.88 L548.99,107.96 L549.62,107.05 L550.26,106.14 L550.9,105.23 L551.55,104.32 L552.2,103.41 L552.86,102.49 L553.52,101.58 L554.19,100.67 L554.87,99.76 L555.55,98.85 L556.23,97.94 L556.92,97.02 L557.61,96.11 L558.31,95.2 L559.01,94.29 L559.72,93.38 L560.43,92.46 L561.14,91.55 L561.86,90.64 L562.59,89.73 L563.31,88.82 L564.04,87.91 L564.78,86.99 L565.51,86.08 L566.25,85.17 L567,84.26 L567.75,83.35 L568.5,82.44 L569.25,81.52 L570.01,80.61 L570.77,79.7 L571.53,78.79 L572.29,77.88 L573.06,76.96 L573.83,76.05 L574.61,75.14 L575.38,74.23 L576.16,73.32 L576.94,72.41 L577.72,71.49 L578.51,70.58 L579.3,69.67 L580.09,68.76 L580.88,67.85 L581.67,66.94 L582.47,66.02 L583.27,65.11 L584.06,64.2 L584.87,63.29 L585.67,62.38 L586.47,61.46 L587.28,60.55 L588.09,59.64 L588.9,58.73 L589.71,57.82 L590.52,56.91 L591.34,55.99 L592.15,55.08 L592.97,54.17 L593.79,53.26 L594.61,52.35 L595.43,51.44 L596.25,50.52 L597.08,49.61 L597.9,48.7 L598.73,47.79 L599.55,46.88 L600.38,45.96 L601.21,45.05 L602.04,44.14 L602.87,43.23 L603.7,42.32 L604.53,41.41 L605.37,40.49 L606.2,39.58 L607.04,38.67 L607.87,37.76 L608.71,36.85" fill="none" stroke="#4a6fe3" stroke-width="1.8"/>
<path d="M506.9,33.2 V141.7 H608.9" fill="none" stroke="#2a2a2a" stroke-width="1"/>
<line x1="504.9" y1="33.2" x2="506.9" y2="33.2" stroke="#2a2a2a" stroke-width="1" />
<line x1="608.9" y1="141.7" x2="608.9" y2="143.7" stroke="#2a2a2a" stroke-width="1" />
<line x1="504.9" y1="76.6" x2="506.9" y2="76.6" stroke="#2a2a2a" stroke-width="1" />
<line x1="568.1" y1="141.7" x2="568.1" y2="143.7" stroke="#2a2a2a" stroke-width="1" />
<line x1="504.9" y1="120" x2="506.9" y2="120" stroke="#2a2a2a" stroke-width="1" />
<line x1="527.3" y1="141.7" x2="527.3" y2="143.7" stroke="#2a2a2a" stroke-width="1" />
<text x="503.1" y="39" font-size="10.4" fill="#111" text-anchor="end">10<tspan font-size="7.2" dy="-7.28">0</tspan></text>
<text x="608.7" y="156.5" font-size="10.4" fill="#111" text-anchor="middle">10<tspan font-size="7.2" dy="-7.28">0</tspan></text>
<text x="503.1" y="82.4" font-size="10.4" fill="#111" text-anchor="end">10<tspan font-size="7.2" dy="-7.28">−2</tspan></text>
<text x="567.9" y="156.5" font-size="10.4" fill="#111" text-anchor="middle">10<tspan font-size="7.2" dy="-7.28">−2</tspan></text>
<text x="503.1" y="125.8" font-size="10.4" fill="#111" text-anchor="end">10<tspan font-size="7.2" dy="-7.28">−4</tspan></text>
<text x="527.1" y="156.5" font-size="10.4" fill="#111" text-anchor="middle">10<tspan font-size="7.2" dy="-7.28">−4</tspan></text>
<text x="557.9" y="177" font-size="10.6" fill="#111" text-anchor="middle" font-weight="normal" font-style="normal" >Frequency (Left)</text>
<text x="418.1" y="24" font-size="9.7" fill="#444" text-anchor="start" font-weight="normal" font-style="normal" >Clones</text>
<line x1="435.7" y1="30" x2="425.8" y2="72" stroke="#555" stroke-width="0.6" />
<text x="312.6" y="215" font-size="14.5" fill="#000" text-anchor="start" font-weight="bold" font-style="normal" >d</text>
<path d="M438.5 244h2v1.5h-2zM438.5 245.5h3.5v0.5h-3.5zM440 246h2v1.5h-2zM438.5 248.5h2v1.5h-2zM435 250h2v0.5h-2zM430.5 250h2v0.5h-2zM438 250h2.5v0.5h-2.5zM430 250.5h2.5v1h-2.5zM435 250.5h5v1.5h-5zM430 251.5h3.5v0.5h-3.5zM430 252h4v0.5h-4zM435 252h4v0.5h-4zM431.5 252.5h2.5v1h-2.5zM435 252.5h3.5v1h-3.5zM430.5 253.5h3.5v0.5h-3.5zM430.5 254h2.5v1h-2.5zM428 253.5h2v1.5h-2zM428 255h5v0.5h-5zM427.5 255.5h3v0.5h-3zM431 255.5h2v0.5h-2zM426.5 256h5.5v2h-5.5zM433.5 256.5h2v2h-2zM428 258h2v0.5h-2zM424.5 258h2v0.5h-2zM424.5 258.5h6.5v1.5h-6.5zM425 260h6v0.5h-6zM425.5 260.5h3.5v0.5h-3.5zM420 260.5h2v0.5h-2zM420 261h3v0.5h-3zM429 261h2v0.5h-2zM424 261h3.5v0.5h-3.5zM420 261.5h11v1h-11zM418 262.5h9v0.5h-9zM427.5 262.5h3.5v1h-3.5zM425 263h2v0.5h-2zM417 263h7.5v0.5h-7.5zM417 263.5h5v0.5h-5zM415.5 264h5v0.5h-5zM421.5 264h2v0.5h-2zM424 265h2v0.5h-2zM415.5 264.5h8v1h-8zM426.5 263.5h2v2h-2zM415.5 265.5h10.5v0.5h-10.5zM417.5 266h4v0.5h-4zM415 266h2v0.5h-2zM423.5 266h2.5v1h-2.5zM415 266.5h5.5v0.5h-5.5zM421.5 267h4v0.5h-4zM414.5 267h6v0.5h-6zM414.5 267.5h9v0.5h-9zM414 268h9.5v1h-9.5zM411 269h10.5v1h-10.5zM423 269.5h2v0.5h-2zM419 270h6v0.5h-6zM411 270h6.5v0.5h-6.5zM409.5 270.5h8v0.5h-8zM419.5 270.5h5.5v0.5h-5.5zM409.5 271h4v0.5h-4zM414 271h4.5v0.5h-4.5zM420.5 271h4.5v0.5h-4.5zM409 271.5h5v0.5h-5zM414.5 271.5h4v0.5h-4zM420.5 271.5h3.5v0.5h-3.5zM407.5 272h11v0.5h-11zM411.5 272.5h10.5v0.5h-10.5zM412 273h5v0.5h-5zM407.5 272.5h3.5v1h-3.5zM406.5 273.5h4.5v0.5h-4.5zM404.5 274h6.5v0.5h-6.5zM418.5 273h3.5v1.5h-3.5zM412 273.5h5.5v1.5h-5.5zM404.5 274.5h7v0.5h-7zM404.5 275h13v0.5h-13zM418 274.5h2v1h-2zM404.5 275.5h15.5v1h-15.5zM404.5 276.5h14v0.5h-14zM403.5 277h15v0.5h-15zM403.5 277.5h13.5v1.5h-13.5zM399 278h3v1h-3zM399 279h18v1h-18zM397.5 280h19.5v0.5h-19.5zM397 280.5h18v0.5h-18zM397 281h18.5v0.5h-18.5zM396.5 281.5h19v1h-19zM394.5 282.5h21v0.5h-21zM394.5 283h19v0.5h-19zM394 283.5h19.5v1.5h-19.5zM394 285h18.5v0.5h-18.5zM391.5 285h2v0.5h-2zM390.5 285.5h22v0.5h-22zM389.5 286h23v0.5h-23zM389.5 286.5h21v0.5h-21zM388 287h23.5v0.5h-23.5zM387 287.5h24.5v0.5h-24.5zM386.5 288h25v0.5h-25zM386 288.5h25.5v0.5h-25.5zM385 289h25v0.5h-25zM385 289.5h24v0.5h-24zM383.5 290h25.5v1h-25.5zM382 291h27v0.5h-27zM382 291.5h26.5v0.5h-26.5zM381 292h27.5v0.5h-27.5zM380.5 292.5h28v0.5h-28zM380 293h27.5v0.5h-27.5zM378.5 293.5h29v0.5h-29zM378 294h28.5v1h-28.5zM377.5 295h24.5v0.5h-24.5zM402.5 295h4v1h-4zM375 295.5h27v0.5h-27zM374.5 296h31.5v0.5h-31.5zM374.5 296.5h28.5v0.5h-28.5zM374 297h29.5v0.5h-29.5zM373.5 297.5h30v0.5h-30zM369 298h2v0.5h-2zM372.5 298h31v0.5h-31zM369 298.5h34.5v0.5h-34.5zM367 299h28.5v0.5h-28.5zM396.5 299h7v1h-7zM365.5 299.5h30.5v0.5h-30.5zM365.5 300h38v0.5h-38zM364 300.5h39v0.5h-39zM364 301h38v2h-38zM364 303h37v1h-37zM364 304h36v2h-36zM364 306h35.5v0.5h-35.5zM363.5 306.5h35.5v0.5h-35.5zM363.5 307h35v2h-35zM363.5 309h33.5v2.5h-33.5zM363.5 311.5h33v0.5h-33zM363.5 312h32.5v1.5h-32.5zM363.5 313.5h32v0.5h-32zM363.5 314h31.5v0.5h-31.5zM363.5 314.5h31v1h-31zM363.5 315.5h30.5v2.5h-30.5zM363.5 318h30v1h-30zM363.5 319h29.5v0.5h-29.5zM363.5 319.5h29v1.5h-29zM363.5 321h28v2.5h-28zM363.5 323.5h27v2.5h-27zM363.5 326h26.5v1h-26.5zM363.5 327h25.5v1h-25.5zM363.5 328h23v0.5h-23zM387 328h2v0.5h-2zM383.5 328.5h3v0.5h-3zM363.5 328.5h14.5v0.5h-14.5zM379 328.5h4v0.5h-4z" fill="#a8a8a8"/>
<path d="M408.5 248h2v1h-2zM415 248h2v2h-2zM408.5 249h3v1h-3zM409 250h2.5v1h-2.5zM418 249.5h2v2h-2zM409 251h2v1h-2zM422 252.5h2v2h-2zM418 253.5h2v1.5h-2zM422 255h2v0.5h-2zM417.5 255h2.5v0.5h-2.5zM417.5 255.5h2v1h-2zM404.5 256h2v1h-2zM421 255.5h3v1.5h-3zM417.5 256.5h3v0.5h-3zM412.5 257h3.5v0.5h-3.5zM417.5 257h5.5v0.5h-5.5zM404.5 257h3.5v1h-3.5zM418.5 257.5h4v1h-4zM410.5 257.5h7v1.5h-7zM406 258h2v1h-2zM420.5 258.5h2v0.5h-2zM401.5 258h2v1.5h-2zM398 257.5h2v2h-2zM409.5 259h8v0.5h-8zM400.5 259.5h3v0.5h-3zM409.5 259.5h6v1h-6zM395.5 258.5h2v2h-2zM409.5 260.5h2v0.5h-2zM413.5 260.5h2v0.5h-2zM418 259h2v2h-2zM388 259.5h2v2h-2zM399.5 260h3v2h-3zM413 261h2v2h-2zM417.5 261h2v2h-2zM400.5 262h2v1.5h-2zM398 263h2v1h-2zM392.5 262h2v2h-2zM395 263.5h2v0.5h-2zM390 262.5h2v2h-2zM405 263.5h3.5v1.5h-3.5zM380 263.5h2v2h-2zM395 264h5v1.5h-5zM403 265h5.5v0.5h-5.5zM396 265.5h4v0.5h-4zM411 264h2v3h-2zM407 265.5h3v1.5h-3zM403 265.5h2v1.5h-2zM407 267h6v0.5h-6zM408.5 267.5h4.5v0.5h-4.5zM408.5 268h3.5v0.5h-3.5zM404.5 267.5h2v1h-2zM399.5 267h2v2h-2zM404.5 268.5h7.5v0.5h-7.5zM397 267.5h2v2h-2zM401.5 269h9.5v0.5h-9.5zM375 267.5h2v2h-2zM401.5 269.5h3.5v1.5h-3.5zM370 269.5h2v2h-2zM406.5 269.5h4v2h-4zM402.5 271h2v1h-2zM378.5 270h2v2h-2zM406.5 271.5h2v1h-2zM394 267.5h2v5h-2zM399 270.5h2v2h-2zM387.5 269h2v4h-2zM391.5 271.5h2v2h-2zM364 272h3v2h-3zM399.5 273.5h4v0.5h-4zM381.5 272h2v2h-2zM393 274h2v0.5h-2zM391.5 274.5h3.5v0.5h-3.5zM386.5 274.5h3v0.5h-3zM367.5 273h2v2h-2zM391.5 275h4v0.5h-4zM396.5 274h8.5v1.5h-8.5zM391.5 275.5h8.5v0.5h-8.5zM401 275.5h4v0.5h-4zM364.5 274h2v2h-2zM386.5 275h4v1.5h-4zM388.5 276.5h2v0.5h-2zM391.5 276h6.5v1h-6.5zM394.5 277h3.5v0.5h-3.5zM399.5 276h3.5v1.5h-3.5zM377.5 275.5h2v2h-2zM391.5 277h2v1h-2zM399.5 277.5h2v0.5h-2zM381 276h2v2h-2zM373.5 277.5h2v1h-2zM394.5 278h2v0.5h-2zM364.5 276.5h2v2h-2zM390.5 278h3v1h-3zM394.5 278.5h3v0.5h-3zM373.5 278.5h3v1h-3zM377.5 278.5h2.5v1h-2.5zM380.5 278h3v1.5h-3zM390.5 279h7v1h-7zM377.5 279.5h7v0.5h-7zM386.5 278h3.5v2h-3.5zM374.5 279.5h2v1h-2zM377.5 280h3v0.5h-3zM391 280h6.5v0.5h-6.5zM367.5 279h2v2h-2zM378.5 280.5h2v0.5h-2zM387.5 280h2v1h-2zM395.5 280.5h2v1h-2zM391 280.5h3.5v1h-3.5zM378.5 281h2.5v0.5h-2.5zM382.5 280h2v1.5h-2zM379 281.5h2v0.5h-2zM389 281.5h4v0.5h-4zM375 282h2v0.5h-2zM386 282h2v0.5h-2zM379 282h5.5v0.5h-5.5zM389 282h2v0.5h-2zM364.5 281.5h2v1h-2zM375 282.5h9.5v0.5h-9.5zM386 282.5h7v0.5h-7zM364 282.5h2.5v0.5h-2.5zM364 283h3v0.5h-3zM380.5 283h4v0.5h-4zM386 283h7.5v0.5h-7.5zM391 283.5h2.5v0.5h-2.5zM364 283.5h4v0.5h-4zM375 283h4v1h-4zM380.5 283.5h10v0.5h-10zM364 284h4.5v0.5h-4.5zM377 284h2v0.5h-2zM381 284h12.5v1h-12.5zM376 284.5h3v0.5h-3zM365 284.5h3.5v0.5h-3.5zM380 285h7v0.5h-7zM375.5 285h2.5v0.5h-2.5zM387.5 285h6v0.5h-6zM380 285.5h3v0.5h-3zM387.5 285.5h4.5v0.5h-4.5zM365.5 285h3v1h-3zM365.5 286h2v0.5h-2zM373 285.5h5v1h-5zM389 286h2v1h-2zM380 286h5.5v1h-5.5zM365.5 286.5h3v0.5h-3zM382.5 287h5v0.5h-5zM366.5 287h2v0.5h-2zM373 286.5h4.5v1h-4.5zM373.5 287.5h4v0.5h-4zM381 287.5h6.5v0.5h-6.5zM380 288h7.5v0.5h-7.5zM373.5 288h6v0.5h-6zM364.5 287.5h5v1.5h-5zM364.5 289h7.5v0.5h-7.5zM377.5 288.5h10v1h-10zM366 289.5h6v0.5h-6zM374 288.5h2v1.5h-2zM377.5 289.5h8.5v0.5h-8.5zM374 290h6.5v0.5h-6.5zM383.5 290h2.5v0.5h-2.5zM381 290h2v1h-2zM367.5 290h4.5v1h-4.5zM376 290.5h4.5v0.5h-4.5zM367.5 291h4v0.5h-4zM376 291h5v0.5h-5zM367.5 291.5h14v0.5h-14zM368 292h13.5v0.5h-13.5zM371 292.5h10.5v0.5h-10.5zM364 290.5h3v3h-3zM368.5 293h10.5v0.5h-10.5zM379.5 293h2v0.5h-2zM374.5 293.5h4.5v0.5h-4.5zM364 293.5h3.5v1h-3.5zM368.5 293.5h4.5v1h-4.5zM375.5 294h3.5v0.5h-3.5zM368.5 294.5h6.5v0.5h-6.5zM365 294.5h3v0.5h-3zM375.5 294.5h2.5v1h-2.5zM365 295h10v1.5h-10zM365 296.5h9v0.5h-9zM368 297h4v0.5h-4zM364 297h3v1h-3zM368 297.5h2v0.5h-2zM367 298h2v0.5h-2zM364 298h2.5v0.5h-2.5zM364 298.5h5v0.5h-5zM363.5 299h5.5v1h-5.5zM363.5 300h4v0.5h-4zM363.5 300.5h2v0.5h-2z" fill="#a8a8a8"/>
<path d="M446.5 255h2v2h-2zM436.5 255h2.5v2h-2.5zM436.5 257h2v1h-2zM434.5 258h4v1h-4zM440 259h2v0.5h-2zM432 259h4.5v0.5h-4.5zM442.5 258h2v2h-2zM432 259.5h6.5v0.5h-6.5zM439 259.5h3v0.5h-3zM432 260h3v0.5h-3zM436.5 260h5.5v1h-5.5zM435.5 261h6.5v0.5h-6.5zM431 260.5h4v1h-4zM438 261.5h2v0.5h-2zM431 261.5h6.5v1h-6.5zM431.5 262.5h6v0.5h-6zM452 261.5h2v2h-2zM431.5 263h4.5v1h-4.5zM429.5 264h6.5v0.5h-6.5zM428.5 264.5h5.5v0.5h-5.5zM427.5 265h6.5v0.5h-6.5zM427 265.5h7v0.5h-7zM426.5 266h4.5v0.5h-4.5zM426 266.5h5v0.5h-5zM437 266h2v2h-2zM432.5 266h3.5v2h-3.5zM425.5 267h5.5v1.5h-5.5zM425 268.5h7.5v0.5h-7.5zM424.5 269h8v1h-8zM433 268.5h2v2h-2zM423.5 270h9v0.5h-9zM423.5 270.5h8.5v0.5h-8.5zM428.5 271h3.5v0.5h-3.5zM423 271h5v0.5h-5zM446 269.5h2v2h-2zM422.5 271.5h3.5v0.5h-3.5zM422 272h6v1h-6zM429 271.5h2v1.5h-2zM433 272h2v2h-2zM421 273h7v1.5h-7zM429 273.5h2v1.5h-2zM420 274.5h8v0.5h-8zM436 273h2v2h-2zM420 275h11v0.5h-11zM428 275.5h2v0.5h-2zM419 275.5h8.5v0.5h-8.5zM433.5 274.5h2v2h-2zM419 276h11v1h-11zM430.5 275.5h2v2h-2zM439 276h2v1.5h-2zM418.5 277h10v0.5h-10zM417.5 277.5h11v0.5h-11zM439 277.5h2.5v0.5h-2.5zM417.5 278h10v0.5h-10zM416.5 278.5h11v1h-11zM431 278.5h2v1h-2zM439.5 278h2v1.5h-2zM425.5 279.5h2v0.5h-2zM416.5 279.5h8v1h-8zM430 279.5h3v1h-3zM420 280.5h4.5v0.5h-4.5zM425 280h2.5v1.5h-2.5zM430 280.5h2v1h-2zM415 280.5h3.5v1h-3.5zM419 281h5.5v0.5h-5.5zM414.5 281.5h4v0.5h-4zM419 281.5h3v0.5h-3zM425 281.5h2v0.5h-2zM422.5 281.5h2v1h-2zM425.5 282h2v0.5h-2zM414 282h7v0.5h-7zM422.5 282.5h5v0.5h-5zM414 282.5h7.5v1h-7.5zM423.5 283h4v1h-4zM431.5 282h2v2h-2zM412.5 283.5h9v0.5h-9zM412.5 284h10.5v0.5h-10.5zM423.5 284h3.5v0.5h-3.5zM412 284.5h11v0.5h-11zM424 284.5h3v1h-3zM411.5 285h11.5v0.5h-11.5zM411 285.5h12v0.5h-12zM424 285.5h2v1h-2zM411 286h10.5v1h-10.5zM422 286.5h5v0.5h-5zM411 287h10v0.5h-10zM418 287.5h3v0.5h-3zM425 287h2v1.5h-2zM411 287.5h6.5v1h-6.5zM422 287h2v1.5h-2zM418.5 288h2.5v0.5h-2.5zM409.5 288.5h5v0.5h-5zM415 288.5h2.5v0.5h-2.5zM419 288.5h2v0.5h-2zM421.5 289h2v0.5h-2zM432.5 288.5h2v1h-2zM430.5 289.5h4v1h-4zM409 289h8.5v1.5h-8.5zM408.5 290.5h9v0.5h-9zM421.5 289.5h3v1.5h-3zM408.5 291h8v0.5h-8zM430.5 290.5h2v1h-2zM422.5 291h2v0.5h-2zM408.5 291.5h8.5v0.5h-8.5zM408.5 292h5v0.5h-5zM406.5 292.5h6.5v0.5h-6.5zM414 292h3v1h-3zM419 291.5h2v1.5h-2zM423 292h3v1.5h-3zM406.5 293h14.5v0.5h-14.5zM406 293.5h13v0.5h-13zM423 293.5h3.5v0.5h-3.5zM405 294h14v1h-14zM424.5 294h2v1.5h-2zM405 295h11v1.5h-11zM436 294.5h2v2h-2zM404 296.5h10.5v0.5h-10.5zM409.5 297h5v0.5h-5zM404 297h5v0.5h-5zM410.5 297.5h4v0.5h-4zM412.5 298h3v0.5h-3zM410 298h2v0.5h-2zM403.5 297.5h5.5v1h-5.5zM403.5 298.5h8.5v0.5h-8.5zM402.5 299h9.5v0.5h-9.5zM413.5 298.5h2v1.5h-2zM402 299.5h10v0.5h-10zM402 300h8v0.5h-8zM401.5 300.5h7.5v0.5h-7.5zM412.5 300h2v1.5h-2zM401.5 301h10.5v0.5h-10.5zM401 301.5h13.5v0.5h-13.5zM400.5 302h14.5v0.5h-14.5zM400 302.5h15v0.5h-15zM400 303h11v0.5h-11zM411.5 303h3.5v0.5h-3.5zM400 303.5h6v0.5h-6zM407 303.5h4v0.5h-4zM422 302h2v2h-2zM413 303.5h2v0.5h-2zM408.5 304h2.5v1h-2.5zM416.5 304.5h2v0.5h-2zM399.5 304h6.5v1h-6.5zM407 305h3.5v0.5h-3.5zM398.5 305h7v0.5h-7zM415.5 305h3v1.5h-3zM411 306.5h2v0.5h-2zM398 305.5h11.5v1.5h-11.5zM415.5 306.5h2v0.5h-2zM404 307h9v0.5h-9zM409 307.5h4v0.5h-4zM413.5 307.5h2v0.5h-2zM409 308h6.5v0.5h-6.5zM397.5 307h6v1.5h-6zM397 308.5h6.5v0.5h-6.5zM409 308.5h2v0.5h-2zM404 307.5h3v1.5h-3zM411.5 308.5h4v1h-4zM396.5 309h10.5v0.5h-10.5zM396.5 309.5h11v0.5h-11zM411.5 309.5h2v0.5h-2zM396 310h11.5v1h-11.5zM408.5 309h2v2h-2zM401 311h8.5v0.5h-8.5zM396 311h4.5v1h-4.5zM401 311.5h6v0.5h-6zM407.5 311.5h2v0.5h-2zM395 312h14.5v0.5h-14.5zM394.5 312.5h15v0.5h-15zM394.5 313h8.5v0.5h-8.5zM403.5 313h5v0.5h-5zM403.5 313.5h6.5v0.5h-6.5zM399.5 313.5h3v0.5h-3zM414.5 313h2v1.5h-2zM400.5 314h2v0.5h-2zM405.5 314h4.5v0.5h-4.5zM394 313.5h5v1.5h-5zM406.5 314.5h3.5v0.5h-3.5zM399.5 314.5h3v0.5h-3zM403.5 314.5h2v0.5h-2zM414 314.5h2.5v0.5h-2.5zM393.5 315h12v0.5h-12zM408 315h2v0.5h-2zM393.5 315.5h12.5v0.5h-12.5zM393 316h13v0.5h-13zM414 315h3v1.5h-3zM400.5 316.5h5.5v0.5h-5.5zM415 316.5h3v0.5h-3zM393 316.5h6.5v0.5h-6.5zM399.5 317h2v0.5h-2zM407.5 315.5h2v2h-2zM392.5 317h6.5v0.5h-6.5zM392.5 317.5h9v1h-9zM416 317h2v1.5h-2zM404 317h2v2h-2zM406.5 318.5h2v1h-2zM392 318.5h10.5v1h-10.5zM392 319.5h8v0.5h-8zM400.5 319.5h2v0.5h-2zM406.5 319.5h4v1h-4zM391.5 320h11v0.5h-11zM391 320.5h11v0.5h-11zM408.5 320.5h2v1h-2zM391 321h12v1h-12zM411 320h2v2h-2zM424 320h2v2h-2zM414 320.5h2v2h-2zM391 322h3.5v0.5h-3.5zM401 322h2v1h-2zM395 322h5v1.5h-5zM390.5 322.5h3.5v1h-3.5zM390.5 323.5h9.5v0.5h-9.5zM390 324h10v0.5h-10zM415.5 323h2v2h-2zM389.5 324.5h10.5v1h-10.5zM389.5 325.5h9v0.5h-9zM407 325.5h2v1h-2zM389.5 326h12v0.5h-12zM389 326.5h7v0.5h-7zM407 326.5h3.5v1h-3.5zM391.5 327h2.5v0.5h-2.5zM398 326.5h3.5v1.5h-3.5zM392 327.5h2v0.5h-2zM389 327h2v1.5h-2zM408.5 327.5h2v1h-2z" fill="#a8a8a8"/>
<line x1="364.5" y1="328" x2="466.3" y2="218" stroke="#505050" stroke-width="1.2" stroke-dasharray="3.5,2.2" />
<path d="M364.5,218 V328 H466.3" fill="none" stroke="#2a2a2a" stroke-width="1"/>
<line x1="362.5" y1="218" x2="364.5" y2="218" stroke="#2a2a2a" stroke-width="1" />
<line x1="466.3" y1="328" x2="466.3" y2="330" stroke="#2a2a2a" stroke-width="1" />
<line x1="362.5" y1="262" x2="364.5" y2="262" stroke="#2a2a2a" stroke-width="1" />
<line x1="425.58" y1="328" x2="425.58" y2="330" stroke="#2a2a2a" stroke-width="1" />
<line x1="362.5" y1="306" x2="364.5" y2="306" stroke="#2a2a2a" stroke-width="1" />
<line x1="384.86" y1="328" x2="384.86" y2="330" stroke="#2a2a2a" stroke-width="1" />
<text x="360.7" y="223.8" font-size="10.4" fill="#111" text-anchor="end">10<tspan font-size="7.2" dy="-7.28">0</tspan></text>
<text x="466.1" y="342.8" font-size="10.4" fill="#111" text-anchor="middle">10<tspan font-size="7.2" dy="-7.28">0</tspan></text>
<text x="360.7" y="267.8" font-size="10.4" fill="#111" text-anchor="end">10<tspan font-size="7.2" dy="-7.28">−2</tspan></text>
<text x="425.38" y="342.8" font-size="10.4" fill="#111" text-anchor="middle">10<tspan font-size="7.2" dy="-7.28">−2</tspan></text>
<text x="360.7" y="311.8" font-size="10.4" fill="#111" text-anchor="end">10<tspan font-size="7.2" dy="-7.28">−4</tspan></text>
<text x="384.66" y="342.8" font-size="10.4" fill="#111" text-anchor="middle">10<tspan font-size="7.2" dy="-7.28">−4</tspan></text>
<text x="415.4" y="363.3" font-size="10.6" fill="#111" text-anchor="middle" font-weight="normal" font-style="normal" >Frequency (Day 14)</text>
<text x="327.5" y="273" font-size="10.6" fill="#111" text-anchor="middle" transform="rotate(-90 327.5 273)">Frequency (Day 21)</text>
<path d="M580.5 244.5h2v1.5h-2zM580.5 246h3.5v0.5h-3.5zM582 246.5h2v1.5h-2zM580.5 249h2v1h-2zM580 250h2.5v1h-2.5zM579.5 251h2.5v0.5h-2.5zM572 250.5h3v1h-3zM577 250h2v1.5h-2zM577 251.5h5v0.5h-5zM572 251.5h3.5v0.5h-3.5zM572 252h4.5v0.5h-4.5zM577 252h4.5v1h-4.5zM577 253h4v0.5h-4zM573.5 252.5h3v1h-3zM577 253.5h2v0.5h-2zM574.5 253.5h2v0.5h-2zM572.5 254h3v1.5h-3zM570 254h2v1.5h-2zM569.5 255.5h6v0.5h-6zM569.5 256h4.5v0.5h-4.5zM568.5 256.5h5.5v1.5h-5.5zM568.5 258h3.5v0.5h-3.5zM575.5 256.5h2v2h-2zM567 258.5h2v0.5h-2zM570 258.5h2v0.5h-2zM567 259h6v2h-6zM562 260.5h2v0.5h-2zM566 261h7v0.5h-7zM562 261h3v0.5h-3zM562 261.5h11v1h-11zM562.5 262.5h10.5v0.5h-10.5zM560 262.5h2v0.5h-2zM562.5 263h4v0.5h-4zM567 263h2v0.5h-2zM569.5 263h3.5v0.5h-3.5zM562.5 263.5h3.5v0.5h-3.5zM569 263.5h4v0.5h-4zM559.5 263h2.5v1h-2.5zM558 264h5v0.5h-5zM569 264h2v1.5h-2zM558 264.5h7.5v1.5h-7.5zM566.5 265h2v1h-2zM557 266h11.5v0.5h-11.5zM565.5 266.5h3v0.5h-3zM557 266.5h5.5v1h-5.5zM565.5 267h2v0.5h-2zM556.5 267.5h11v0.5h-11zM556 268h9.5v1h-9.5zM553.5 269h12v0.5h-12zM553 269.5h10.5v0.5h-10.5zM565 269.5h2v0.5h-2zM560.5 270h6.5v0.5h-6.5zM561.5 270.5h5.5v0.5h-5.5zM553 270h6.5v1h-6.5zM551.5 271h4v0.5h-4zM556 271h4.5v0.5h-4.5zM562.5 271h4.5v0.5h-4.5zM562.5 271.5h3.5v0.5h-3.5zM551 271.5h9.5v0.5h-9.5zM551 272h5v0.5h-5zM556.5 272h4v0.5h-4zM549.5 272.5h13v0.5h-13zM549.5 273h3.5v0.5h-3.5zM548.5 273.5h4.5v0.5h-4.5zM554 273h5v1h-5zM547 274h6v0.5h-6zM560.5 273h3.5v1.5h-3.5zM547 274.5h6.5v0.5h-6.5zM554 274h5.5v1h-5.5zM560 274.5h4v0.5h-4zM547 275h12.5v0.5h-12.5zM560 275h2v0.5h-2zM546.5 275.5h15.5v1h-15.5zM546.5 276.5h14v1h-14zM545.5 277.5h13.5v1h-13.5zM542 278h2v0.5h-2zM545.5 278.5h14v0.5h-14zM541.5 278.5h2.5v0.5h-2.5zM541.5 279h18v1h-18zM539.5 280h20v0.5h-20zM550.5 280.5h6.5v0.5h-6.5zM539 280.5h11v0.5h-11zM539 281h18.5v1h-18.5zM538.5 282h19v0.5h-19zM536.5 282.5h21v0.5h-21zM536.5 283h19v0.5h-19zM536 283.5h19.5v1.5h-19.5zM536 285h18.5v0.5h-18.5zM533.5 285h2v0.5h-2zM532.5 285.5h22v0.5h-22zM531.5 286h23v0.5h-23zM531.5 286.5h21v0.5h-21zM530 287h23.5v0.5h-23.5zM529.5 287.5h24v0.5h-24zM529 288h24.5v0.5h-24.5zM528 288.5h25.5v0.5h-25.5zM527 289h25v0.5h-25zM527 289.5h24.5v0.5h-24.5zM526 290h25.5v0.5h-25.5zM526 290.5h25v0.5h-25zM524 291h27v0.5h-27zM524 291.5h26.5v0.5h-26.5zM523 292h27.5v0.5h-27.5zM522.5 292.5h28v0.5h-28zM522 293h27.5v0.5h-27.5zM520.5 293.5h29v0.5h-29zM520 294h28.5v1h-28.5zM519.5 295h24.5v0.5h-24.5zM544.5 295h4v1h-4zM517 295.5h27v0.5h-27zM516.5 296h31.5v0.5h-31.5zM516.5 296.5h29v0.5h-29zM515.5 297h30v1h-30zM511 298h2v0.5h-2zM514.5 298h31.5v0.5h-31.5zM511 298.5h35v0.5h-35zM509 299h28.5v0.5h-28.5zM538.5 299h7.5v1h-7.5zM507.5 299.5h30.5v0.5h-30.5zM507.5 300h38v0.5h-38zM506 300.5h39v0.5h-39zM506 301h38v2h-38zM506 303h37.5v1h-37.5zM506 304h36v2h-36zM506 306h35.5v0.5h-35.5zM505.5 306.5h35.5v2.5h-35.5zM505.5 309h33.5v2.5h-33.5zM505.5 311.5h33v1.5h-33zM505.5 313h32.5v0.5h-32.5zM505.5 313.5h32v0.5h-32zM505.5 314h31.5v0.5h-31.5zM505.5 314.5h31v1h-31zM505.5 315.5h30.5v2.5h-30.5zM505.5 318h30v0.5h-30zM505.5 318.5h29.5v0.5h-29.5zM505.5 319h29v2h-29zM505.5 321h28v2.5h-28zM505.5 323.5h27v3h-27zM505.5 326.5h26.5v0.5h-26.5zM505.5 327h25.5v0.5h-25.5zM505.5 327.5h23v1h-23zM529 327.5h2v1h-2z" fill="#a8a8a8"/>
<path d="M550.5 248h2v1h-2zM550.5 249h3v1h-3zM551.5 250h2v0.5h-2zM557 248.5h2v2h-2zM551 250.5h2.5v0.5h-2.5zM560 249.5h2v2h-2zM551 251h2v1.5h-2zM564 253h2v2h-2zM560 253.5h2v1.5h-2zM559.5 255h2.5v0.5h-2.5zM564 255.5h2v0.5h-2zM546.5 256h2v1h-2zM559.5 255.5h2v1.5h-2zM559.5 257h3v0.5h-3zM563 256h3v1.5h-3zM554.5 257h2v0.5h-2zM560.5 257.5h4.5v0.5h-4.5zM546.5 257h3.5v1h-3.5zM552.5 257.5h7v1.5h-7zM548 258h2v1h-2zM560.5 258h4v1.5h-4zM543.5 258h2v1.5h-2zM551.5 259h8v0.5h-8zM542.5 259.5h3v0.5h-3zM540 258h2v2h-2zM542.5 260h2v0.5h-2zM537.5 258.5h2v2h-2zM560.5 259.5h2v1.5h-2zM551.5 259.5h6v1.5h-6zM530 260h2v2h-2zM541.5 260.5h3v2h-3zM559.5 261h2v2h-2zM555.5 261h2v2h-2zM534.5 262h2v2h-2zM542.5 262.5h2v1.5h-2zM547 263.5h2v0.5h-2zM540 263h2v1.5h-2zM537 263.5h2v1h-2zM532 263h2v2h-2zM547 264h3.5v1h-3.5zM522 263.5h2v2h-2zM537 264.5h5v1h-5zM545 265h5.5v0.5h-5.5zM553 264h2v2h-2zM548.5 265.5h3.5v0.5h-3.5zM538 265.5h4v1h-4zM545 265.5h2v1.5h-2zM549 266h3v1.5h-3zM553 266.5h2v1h-2zM551 267.5h4v0.5h-4zM550.5 268h4.5v0.5h-4.5zM541.5 267h2v2h-2zM550.5 268.5h3.5v0.5h-3.5zM546.5 267.5h2v1.5h-2zM539 267.5h2v2h-2zM545 269h9v0.5h-9zM517 268h2v2h-2zM543.5 269.5h3.5v1.5h-3.5zM529.5 269.5h2v1.5h-2zM529.5 271h2.5v0.5h-2.5zM543.5 271h3v0.5h-3zM548.5 269.5h4v2h-4zM521 270h2v2h-2zM544.5 271.5h2v0.5h-2zM512 270h2v2h-2zM548.5 271.5h2v1h-2zM541 270.5h2v2h-2zM530 271.5h2v1.5h-2zM536 267.5h2v5.5h-2zM533.5 272h2v2h-2zM541.5 273.5h4v0.5h-4zM506 272.5h3v2h-3zM540 274h7v0.5h-7zM523.5 272.5h2v2h-2zM529.5 274.5h2v0.5h-2zM533.5 274.5h3.5v1h-3.5zM509.5 273.5h2v2h-2zM538.5 274.5h8.5v1h-8.5zM533.5 275.5h8.5v0.5h-8.5zM543 275.5h4v0.5h-4zM506.5 274.5h2v1.5h-2zM533.5 276h7v0.5h-7zM528.5 275h4v2h-4zM533.5 276.5h6.5v1h-6.5zM541.5 276h3.5v1.5h-3.5zM519.5 275.5h2v2h-2zM538 277.5h2v0.5h-2zM541.5 277.5h2v0.5h-2zM523 276.5h2v1.5h-2zM515.5 277.5h2v1h-2zM533.5 277.5h2v1h-2zM536.5 278h2v0.5h-2zM528.5 278h4v0.5h-4zM506.5 276.5h2v2h-2zM536.5 278.5h3.5v0.5h-3.5zM528.5 278.5h7v0.5h-7zM520 278.5h2v0.5h-2zM528.5 279h6v0.5h-6zM515.5 278.5h3v1h-3zM519.5 279h2.5v0.5h-2.5zM535 279h5v0.5h-5zM522.5 278h3v1.5h-3zM528.5 279.5h11.5v0.5h-11.5zM519.5 279.5h7v0.5h-7zM516.5 279.5h2v1h-2zM532.5 280h7.5v0.5h-7.5zM509.5 279h2v2h-2zM519.5 280h3v1h-3zM533 280.5h4v0.5h-4zM529.5 280h2v1h-2zM537.5 280.5h2v1h-2zM533 281h3.5v0.5h-3.5zM520.5 281h2.5v0.5h-2.5zM524.5 280h2v1.5h-2zM521 281.5h2v0.5h-2zM531 281.5h4v1h-4zM517 282h2v0.5h-2zM528 282h2v0.5h-2zM521 282h6v0.5h-6zM506.5 281.5h2v1.5h-2zM517 282.5h10v0.5h-10zM528 282.5h7v0.5h-7zM506 283h3v0.5h-3zM522.5 283h4.5v0.5h-4.5zM528 283h7.5v0.5h-7.5zM533 283.5h2.5v0.5h-2.5zM506 283.5h4v0.5h-4zM517 283h4v1h-4zM522.5 283.5h9.5v0.5h-9.5zM519 284h2v0.5h-2zM523 284h12.5v1h-12.5zM518 284.5h3v0.5h-3zM506 284h4.5v1h-4.5zM522 285h7v0.5h-7zM517.5 285h2.5v0.5h-2.5zM529.5 285h6v0.5h-6zM529.5 285.5h4.5v0.5h-4.5zM522 285.5h5v0.5h-5zM507.5 285h3v1h-3zM507.5 286h2v0.5h-2zM515 285.5h5v1h-5zM531.5 286h2.5v0.5h-2.5zM531.5 286.5h2v0.5h-2zM522 286h5.5v1h-5.5zM507.5 286.5h3v0.5h-3zM524.5 287h3v0.5h-3zM508.5 287h2v0.5h-2zM515 286.5h4.5v1h-4.5zM515.5 287.5h4v0.5h-4zM523 287.5h6.5v0.5h-6.5zM515.5 288h6v0.5h-6zM519.5 288.5h2v0.5h-2zM522 288h7.5v1h-7.5zM506.5 287.5h5v1.5h-5zM506.5 289h7.5v0.5h-7.5zM519.5 289h10v0.5h-10zM519.5 289.5h9v0.5h-9zM516 288.5h2v1.5h-2zM508.5 289.5h2v0.5h-2zM511 289.5h3v0.5h-3zM516 290h9v0.5h-9zM525.5 290h3v0.5h-3zM509.5 290h4.5v1h-4.5zM518 290.5h7v0.5h-7zM509.5 291h4v0.5h-4zM518 291h5v0.5h-5zM509.5 291.5h14v0.5h-14zM510 292h13.5v0.5h-13.5zM513 292.5h10.5v0.5h-10.5zM506 290.5h3v3h-3zM510.5 293h10.5v0.5h-10.5zM521.5 293h2v0.5h-2zM516.5 293.5h4.5v0.5h-4.5zM506 293.5h3.5v1h-3.5zM510.5 293.5h4.5v1h-4.5zM510.5 294.5h6.5v0.5h-6.5zM507 294.5h3v0.5h-3zM517.5 294h3.5v1h-3.5zM517.5 295h2.5v0.5h-2.5zM507 295h10v1.5h-10zM507 296.5h9v0.5h-9zM510.5 297h3.5v0.5h-3.5zM506 297h3v1h-3zM510.5 297.5h2v0.5h-2zM509 298h2v0.5h-2zM506 298h2.5v0.5h-2.5zM505.5 298.5h5.5v1.5h-5.5zM505.5 300h4v0.5h-4z" fill="#f28a0c"/>
<path d="M588.5 255.5h2v2h-2zM578.5 255.5h2.5v2h-2.5zM578.5 257.5h2v1h-2zM577 258.5h3.5v0.5h-3.5zM574.5 259h4.5v0.5h-4.5zM582.5 259h2v0.5h-2zM582 259.5h2.5v0.5h-2.5zM581.5 260h3v0.5h-3zM574.5 259.5h6v1h-6zM585 258.5h2v2h-2zM578.5 260.5h6v0.5h-6zM573 260.5h4v1h-4zM578.5 261h5.5v0.5h-5.5zM580 261.5h3.5v0.5h-3.5zM580 262h2v0.5h-2zM573 261.5h6.5v1h-6.5zM573.5 262.5h6v1h-6zM594 261.5h2v2h-2zM573.5 263.5h4.5v0.5h-4.5zM571.5 264h6.5v0.5h-6.5zM571.5 264.5h2.5v0.5h-2.5zM574.5 264.5h3.5v0.5h-3.5zM570.5 265h3.5v0.5h-3.5zM574.5 265h2v1h-2zM569.5 265.5h4.5v0.5h-4.5zM568.5 266h4.5v0.5h-4.5zM568 266.5h5v0.5h-5zM574.5 266h3.5v2h-3.5zM579 266.5h2v2h-2zM567.5 267h5.5v1.5h-5.5zM567 268.5h7.5v0.5h-7.5zM566.5 269h8v1h-8zM566 270h8.5v0.5h-8.5zM575 268h2v2.5h-2zM566 270.5h8v0.5h-8zM588 269.5h2v2h-2zM565 271h5v0.5h-5zM571 271h3v1h-3zM564.5 271.5h3.5v0.5h-3.5zM571 272h2v1h-2zM564 272h6v1.5h-6zM563 273.5h7v0.5h-7zM563 274h7.5v0.5h-7.5zM575 272.5h2v2h-2zM562.5 274.5h8v0.5h-8zM571 273.5h2v1.5h-2zM562.5 275h10.5v0.5h-10.5zM578 273.5h2v2h-2zM561 275.5h4v0.5h-4zM565.5 275.5h6.5v0.5h-6.5zM575.5 274.5h2v2h-2zM561 276h11v1h-11zM560.5 277h10v0.5h-10zM559.5 277.5h11v0.5h-11zM572.5 276h2v2h-2zM559.5 278h10v0.5h-10zM559 278.5h10.5v1h-10.5zM573 278.5h2v1h-2zM568 279.5h2v0.5h-2zM581.5 276h2v4h-2zM559 279.5h7.5v1h-7.5zM572.5 279.5h2.5v1h-2.5zM557 280.5h5v0.5h-5zM562.5 280.5h4v0.5h-4zM572.5 280.5h2v1h-2zM567.5 280h2.5v1.5h-2.5zM557 281h9.5v0.5h-9.5zM556.5 281.5h8v0.5h-8zM567.5 281.5h2v1h-2zM565 281.5h2v1h-2zM556 282h7v0.5h-7zM556 282.5h7.5v1h-7.5zM565 282.5h4.5v1h-4.5zM573.5 282h2v2h-2zM554.5 283.5h9.5v0.5h-9.5zM565.5 283.5h4v1h-4zM554.5 284h10.5v0.5h-10.5zM554 284.5h11v1h-11zM566.5 284.5h3v1h-3zM553.5 285.5h11.5v0.5h-11.5zM566.5 285.5h2v1h-2zM553.5 286h10v1h-10zM566.5 286.5h2.5v0.5h-2.5zM553 287h9.5v0.5h-9.5zM553 287.5h6.5v0.5h-6.5zM560 287.5h3.5v0.5h-3.5zM560.5 288h3v0.5h-3zM553 288h7v0.5h-7zM564 286.5h2v2h-2zM567 287h2v1.5h-2zM551.5 288.5h5v0.5h-5zM557 288.5h3v0.5h-3zM561.5 288.5h2v0.5h-2zM561.5 289h4v0.5h-4zM575 288.5h2v1h-2zM551 289h9v1h-9zM573 289.5h4v1h-4zM551 290h8.5v0.5h-8.5zM550.5 290.5h9v0.5h-9zM563.5 289.5h3v1.5h-3zM550.5 291h8v0.5h-8zM564.5 291h2v0.5h-2zM573 290.5h2v1h-2zM550.5 291.5h8.5v0.5h-8.5zM550.5 292h5v0.5h-5zM548.5 292.5h7v0.5h-7zM556.5 292h2.5v1h-2.5zM548.5 293h12.5v0.5h-12.5zM565.5 292h2.5v1.5h-2.5zM561.5 291.5h2v2h-2zM548 293.5h13v0.5h-13zM565.5 293.5h3v0.5h-3zM547 294h14v0.5h-14zM551.5 294.5h9.5v0.5h-9.5zM547 294.5h4v0.5h-4zM566.5 294h2v1.5h-2zM547 295h11v1.5h-11zM578 294.5h2v2h-2zM546 296.5h10.5v1h-10.5zM552.5 297.5h4v0.5h-4zM545.5 297.5h6v1h-6zM552 298h2v0.5h-2zM554.5 298h3.5v0.5h-3.5zM545.5 298.5h8.5v0.5h-8.5zM544.5 299h9.5v0.5h-9.5zM556 298.5h2v1.5h-2zM544 299.5h10v0.5h-10zM544 300h8v0.5h-8zM554.5 300h2v1h-2zM543.5 300.5h7.5v0.5h-7.5zM543.5 301h13v0.5h-13zM543 301.5h13.5v0.5h-13.5zM542.5 302h15v0.5h-15zM542 302.5h15.5v0.5h-15.5zM564 301.5h2v2h-2zM542 303h11v0.5h-11zM549 303.5h4v0.5h-4zM542 303.5h6.5v0.5h-6.5zM555.5 303h2v1h-2zM541.5 304h7v1h-7zM550.5 304h2.5v1h-2.5zM558.5 304.5h2v0.5h-2zM549.5 305h3v0.5h-3zM541 305h6.5v0.5h-6.5zM557.5 305h3v1.5h-3zM540.5 305.5h11v1h-11zM557.5 306.5h2v0.5h-2zM540 306.5h11.5v0.5h-11.5zM539.5 307h13.5v0.5h-13.5zM556 307.5h2v0.5h-2zM553.5 306.5h2v1.5h-2zM539.5 307.5h10v0.5h-10zM553.5 308h4.5v0.5h-4.5zM539 308h6.5v1h-6.5zM551 307.5h2v1.5h-2zM546 308h3.5v1h-3.5zM554 308.5h4v1h-4zM538.5 309h11v1h-11zM554 309.5h2v0.5h-2zM538 310h11.5v0.5h-11.5zM538 310.5h5v0.5h-5zM543.5 310.5h6v0.5h-6zM550.5 309h2v2h-2zM538 311h4.5v0.5h-4.5zM543.5 311h8v0.5h-8zM549.5 311.5h2v0.5h-2zM537 311.5h12v0.5h-12zM548.5 312h3v0.5h-3zM537 312h10.5v0.5h-10.5zM536.5 312.5h15v0.5h-15zM536.5 313h8.5v0.5h-8.5zM545.5 313h5.5v0.5h-5.5zM536 313.5h5v0.5h-5zM545.5 313.5h6.5v0.5h-6.5zM541.5 313.5h3.5v0.5h-3.5zM556.5 313h2v1.5h-2zM542.5 314h2v0.5h-2zM536 314h5.5v0.5h-5.5zM547.5 314h4.5v0.5h-4.5zM549 314.5h3v0.5h-3zM536 314.5h12v0.5h-12zM550 315h2v0.5h-2zM535.5 315h12.5v1h-12.5zM535 316h13v0.5h-13zM556 314.5h3.5v2h-3.5zM543 316.5h2v0.5h-2zM535 316.5h6.5v0.5h-6.5zM549.5 315.5h2v2h-2zM534.5 317h9v1.5h-9zM546 316.5h2v2h-2zM558 316.5h2v2h-2zM549 318.5h2v1h-2zM534 318.5h10.5v1h-10.5zM549 319.5h4v0.5h-4zM542.5 319.5h2v0.5h-2zM533.5 319.5h8.5v0.5h-8.5zM533 320h11.5v0.5h-11.5zM549 320h6v0.5h-6zM533 320.5h11v0.5h-11zM551 320.5h4v1h-4zM566 319.5h2v2h-2zM533 321h12v1h-12zM553 321.5h2v0.5h-2zM532.5 322h9.5v0.5h-9.5zM556 320.5h2v2h-2zM537 322.5h5v0.5h-5zM543 322h2v1h-2zM532.5 322.5h3.5v0.5h-3.5zM532.5 323h9.5v1h-9.5zM532 324h10v0.5h-10zM531.5 324.5h10.5v0.5h-10.5zM557.5 323h2v2h-2zM531.5 325h9v0.5h-9zM531.5 325.5h10.5v0.5h-10.5zM549.5 325h2v1.5h-2zM531 326h8v0.5h-8zM549.5 326.5h3v0.5h-3zM533.5 326.5h2.5v0.5h-2.5zM540 326h3.5v1.5h-3.5zM541.5 327.5h2v0.5h-2zM531 326.5h2v1.5h-2zM534 327h2v1h-2zM550.5 327h2v1.5h-2z" fill="#4466e0"/>
<line x1="506.5" y1="327.8" x2="608.5" y2="218.5" stroke="#505050" stroke-width="1.2" stroke-dasharray="3.5,2.2" />
<path d="M506.5,301.32 L507.36,301.01 L508.21,300.69 L509.07,300.36 L509.93,300.01 L510.79,299.66 L511.64,299.29 L512.5,298.91 L513.36,298.52 L514.21,298.12 L515.07,297.71 L515.93,297.29 L516.79,296.85 L517.64,296.4 L518.5,295.95 L519.36,295.48 L520.21,295 L521.07,294.5 L521.93,294 L522.79,293.49 L523.64,292.97 L524.5,292.43 L525.36,291.89 L526.21,291.34 L527.07,290.78 L527.93,290.2 L528.79,289.62 L529.64,289.03 L530.5,288.44 L531.36,287.83 L532.21,287.21 L533.07,286.59 L533.93,285.96 L534.79,285.32 L535.64,284.68 L536.5,284.02 L537.36,283.36 L538.21,282.69 L539.07,282.02 L539.93,281.34 L540.79,280.65 L541.64,279.96 L542.5,279.26 L543.36,278.55 L544.21,277.84 L545.07,277.12 L545.93,276.4 L546.79,275.67 L547.64,274.94 L548.5,274.2 L549.36,273.46 L550.21,272.71 L551.07,271.96 L551.93,271.2 L552.79,270.44 L553.64,269.67 L554.5,268.9 L555.36,268.13 L556.21,267.35 L557.07,266.57 L557.93,265.78 L558.79,264.99 L559.64,264.2 L560.5,263.4 L561.36,262.6 L562.21,261.8 L563.07,260.99 L563.93,260.18 L564.79,259.36 L565.64,258.55 L566.5,257.73 L567.36,256.9 L568.21,256.08 L569.07,255.25 L569.93,254.42 L570.79,253.58 L571.64,252.75 L572.5,251.91 L573.36,251.07 L574.21,250.22 L575.07,249.38 L575.93,248.53 L576.79,247.68 L577.64,246.82 L578.5,245.97 L579.36,245.11 L580.21,244.25 L581.07,243.39 L581.93,242.53 L582.79,241.67 L583.64,240.8 L584.5,239.93 L585.36,239.06 L586.21,238.19 L587.07,237.32 L587.93,236.44 L588.79,235.57 L589.64,234.69 L590.5,233.81 L591.36,232.93 L592.21,232.05 L593.07,231.17 L593.93,230.29 L594.79,229.4 L595.64,228.52 L596.5,227.63 L597.36,226.74 L598.21,225.85 L599.07,224.96 L599.93,224.07 L600.79,223.18 L601.64,222.29 L602.5,221.39 L603.36,220.5 L604.21,219.6 L605.07,218.71" fill="none" stroke="#f7901e" stroke-width="1.8"/>
<path d="M531.21,327.8 L531.5,326.88 L531.8,325.96 L532.11,325.04 L532.43,324.13 L532.76,323.21 L533.1,322.29 L533.46,321.37 L533.82,320.45 L534.19,319.53 L534.58,318.62 L534.98,317.7 L535.38,316.78 L535.8,315.86 L536.23,314.94 L536.67,314.02 L537.11,313.1 L537.57,312.19 L538.04,311.27 L538.52,310.35 L539.01,309.43 L539.5,308.51 L540.01,307.59 L540.53,306.67 L541.05,305.76 L541.58,304.84 L542.13,303.92 L542.68,303 L543.23,302.08 L543.8,301.16 L544.37,300.25 L544.96,299.33 L545.55,298.41 L546.14,297.49 L546.74,296.57 L547.35,295.65 L547.97,294.73 L548.59,293.82 L549.22,292.9 L549.86,291.98 L550.5,291.06 L551.15,290.14 L551.8,289.22 L552.46,288.31 L553.12,287.39 L553.79,286.47 L554.47,285.55 L555.15,284.63 L555.83,283.71 L556.52,282.79 L557.21,281.88 L557.91,280.96 L558.61,280.04 L559.32,279.12 L560.03,278.2 L560.74,277.28 L561.46,276.36 L562.19,275.45 L562.91,274.53 L563.64,273.61 L564.38,272.69 L565.11,271.77 L565.85,270.85 L566.6,269.94 L567.35,269.02 L568.1,268.1 L568.85,267.18 L569.61,266.26 L570.37,265.34 L571.13,264.42 L571.89,263.51 L572.66,262.59 L573.43,261.67 L574.21,260.75 L574.98,259.83 L575.76,258.91 L576.54,257.99 L577.32,257.08 L578.11,256.16 L578.9,255.24 L579.69,254.32 L580.48,253.4 L581.27,252.48 L582.07,251.57 L582.87,250.65 L583.66,249.73 L584.47,248.81 L585.27,247.89 L586.07,246.97 L586.88,246.05 L587.69,245.14 L588.5,244.22 L589.31,243.3 L590.12,242.38 L590.94,241.46 L591.75,240.54 L592.57,239.63 L593.39,238.71 L594.21,237.79 L595.03,236.87 L595.85,235.95 L596.68,235.03 L597.5,234.11 L598.33,233.2 L599.15,232.28 L599.98,231.36 L600.81,230.44 L601.64,229.52 L602.47,228.6 L603.3,227.68 L604.13,226.77 L604.97,225.85 L605.8,224.93 L606.64,224.01 L607.47,223.09 L608.31,222.17" fill="none" stroke="#4a6fe3" stroke-width="1.8"/>
<path d="M506.5,218.5 V327.8 H608.5" fill="none" stroke="#2a2a2a" stroke-width="1"/>
<line x1="504.5" y1="218.5" x2="506.5" y2="218.5" stroke="#2a2a2a" stroke-width="1" />
<line x1="608.5" y1="327.8" x2="608.5" y2="329.8" stroke="#2a2a2a" stroke-width="1" />
<line x1="504.5" y1="262.22" x2="506.5" y2="262.22" stroke="#2a2a2a" stroke-width="1" />
<line x1="567.7" y1="327.8" x2="567.7" y2="329.8" stroke="#2a2a2a" stroke-width="1" />
<line x1="504.5" y1="305.94" x2="506.5" y2="305.94" stroke="#2a2a2a" stroke-width="1" />
<line x1="526.9" y1="327.8" x2="526.9" y2="329.8" stroke="#2a2a2a" stroke-width="1" />
<text x="502.7" y="224.3" font-size="10.4" fill="#111" text-anchor="end">10<tspan font-size="7.2" dy="-7.28">0</tspan></text>
<text x="608.3" y="342.6" font-size="10.4" fill="#111" text-anchor="middle">10<tspan font-size="7.2" dy="-7.28">0</tspan></text>
<text x="502.7" y="268.02" font-size="10.4" fill="#111" text-anchor="end">10<tspan font-size="7.2" dy="-7.28">−2</tspan></text>
<text x="567.5" y="342.6" font-size="10.4" fill="#111" text-anchor="middle">10<tspan font-size="7.2" dy="-7.28">−2</tspan></text>
<text x="502.7" y="311.74" font-size="10.4" fill="#111" text-anchor="end">10<tspan font-size="7.2" dy="-7.28">−4</tspan></text>
<text x="526.7" y="342.6" font-size="10.4" fill="#111" text-anchor="middle">10<tspan font-size="7.2" dy="-7.28">−4</tspan></text>
<text x="557.5" y="363.1" font-size="10.6" fill="#111" text-anchor="middle" font-weight="normal" font-style="normal" >Frequency (Day 14)</text>
<text x="524.6" y="217.1" font-size="9.95" fill="#f7901e" text-anchor="start" font-weight="normal" font-style="normal" >Expanding clone</text>
<text x="584.8" y="311.9" font-size="10.1" fill="#4a6fe3" text-anchor="start" font-weight="normal" font-style="normal" >Contracting clone</text>
<text x="0.9" y="394.6" font-size="14.5" fill="#000" text-anchor="start" font-weight="bold" font-style="normal" >e</text>
<text x="25" y="394.5" font-size="10.0" fill="#111" text-anchor="start" font-weight="normal" font-style="normal" >Top 25 largest clones (Day 14)</text>
<path d="M50.7 504V431.29H52.7V504M53.7 504V435.26H55.7V504M56.7 504V437.81H58.7V504M59.7 504V445.48H61.7V504M62.7 504V451.44H64.7V504M65.7 504V454.27H67.7V504M68.7 504V458.25H70.7V504M71.7 504V458.53H73.7V504M74.7 504V458.53H76.7V504M77.7 504V460.23H79.7V504M80.7 504V460.52H82.7V504M83.7 504V462.22H85.7V504M86.7 504V463.21H88.7V504M89.7 504V463.36H91.7V504M92.7 504V463.64H94.7V504M95.7 504V463.92H97.7V504M98.7 504V464.21H100.7V504M101.7 504V464.49H103.7V504M104.7 504V465.34H106.7V504M107.7 504V466.19H109.7V504M110.7 504V467.33H112.7V504M113.7 504V470.45H115.7V504M116.7 504V470.45H118.7V504M119.7 504V470.74H121.7V504M122.7 504V471.3H124.7V504" fill="#fff" stroke="#8a8a8a" stroke-width="1"/>
<path d="M50.75 447.18h1.85V504h-1.85zM53.75 464.21h1.85V504h-1.85zM56.75 458.25h1.85V504h-1.85zM59.75 486.63h1.85V504h-1.85zM62.75 472.01h1.85V504h-1.85zM65.75 475.28h1.85V504h-1.85zM68.75 474.57h1.85V504h-1.85zM71.75 482.09h1.85V504h-1.85zM74.75 465.06h1.85V504h-1.85zM77.75 494.86h1.85V504h-1.85zM80.75 483.08h1.85V504h-1.85zM83.75 478.11h1.85V504h-1.85zM89.75 479.11h1.85V504h-1.85zM92.75 479.53h1.85V504h-1.85zM98.75 492.02h1.85V504h-1.85zM101.75 494.43h1.85V504h-1.85zM104.75 501.1h1.85V504h-1.85zM107.75 495.43h1.85V504h-1.85zM110.75 500.11h1.85V504h-1.85zM113.75 492.02h1.85V504h-1.85zM116.75 484.07h1.85V504h-1.85zM119.75 479.82h1.85V504h-1.85zM122.75 491.17h1.85V504h-1.85z" fill="#6283db"/>
<path d="M86.75 456.12h1.85V504h-1.85zM95.75 456.12h1.85V504h-1.85z" fill="#f6a444"/>
<path d="M140.4 504V425.33H142.4V504M143.4 504V432H145.4V504M146.4 504V436.68H148.4V504M149.4 504V441.22H151.4V504M152.4 504V443.35H154.4V504M155.4 504V443.63H157.4V504M158.4 504V448.31H160.4V504M161.4 504V449.02H163.4V504M164.4 504V454.27H166.4V504M167.4 504V456.4H169.4V504M170.4 504V456.54H172.4V504M173.4 504V458.53H175.4V504M176.4 504V461.37H178.4V504M179.4 504V465.06H181.4V504M182.4 504V465.34H184.4V504M185.4 504V465.34H187.4V504M188.4 504V465.34H190.4V504M191.4 504V466.48H193.4V504M194.4 504V466.48H196.4V504M197.4 504V466.76H199.4V504M200.4 504V467.47H202.4V504M203.4 504V468.89H205.4V504M206.4 504V469.32H208.4V504M209.4 504V469.6H211.4V504M212.4 504V470.31H214.4V504" fill="#fff" stroke="#8a8a8a" stroke-width="1"/>
<path d="M140.45 431.29h1.85V504h-1.85zM146.45 453h1.85V504h-1.85zM149.45 447.6h1.85V504h-1.85zM152.45 471.3h1.85V504h-1.85zM155.45 458.96h1.85V504h-1.85zM158.45 458.67h1.85V504h-1.85zM161.45 466.76h1.85V504h-1.85zM167.45 463.64h1.85V504h-1.85zM170.45 468.89h1.85V504h-1.85zM173.45 478.11h1.85V504h-1.85zM176.45 483.08h1.85V504h-1.85zM185.45 475.99h1.85V504h-1.85zM191.45 489.04h1.85V504h-1.85zM194.45 496.28h1.85V504h-1.85zM197.45 501.1h1.85V504h-1.85zM206.45 497.55h1.85V504h-1.85zM209.45 492.02h1.85V504h-1.85zM212.45 491.17h1.85V504h-1.85z" fill="#6283db"/>
<path d="M164.45 456.12h1.85V504h-1.85zM179.45 469.6h1.85V504h-1.85zM182.45 472.44h1.85V504h-1.85zM188.45 465.63h1.85V504h-1.85zM200.45 473.15h1.85V504h-1.85zM203.45 469.32h1.85V504h-1.85z" fill="#999999"/>
<path d="M143.45 427.31h1.85V504h-1.85z" fill="#f6a444"/>
<path d="M229.8 504V428.16H231.8V504M232.8 504V452.29H234.8V504M235.8 504V454.7H237.8V504M238.8 504V456.4H240.8V504M241.8 504V456.54H243.8V504M244.8 504V457.54H246.8V504M247.8 504V459.38H249.8V504M250.8 504V460.38H252.8V504M253.8 504V461.8H255.8V504M256.8 504V461.94H258.8V504M259.8 504V463.36H261.8V504M262.8 504V464.21H264.8V504M265.8 504V466.76H267.8V504M268.8 504V467.05H270.8V504M271.8 504V467.05H273.8V504M274.8 504V467.47H276.8V504M277.8 504V467.47H279.8V504M280.8 504V468.18H282.8V504M283.8 504V468.46H285.8V504M286.8 504V468.75H288.8V504M289.8 504V469.6H291.8V504M292.8 504V470.31H294.8V504M295.8 504V470.31H297.8V504M298.8 504V471.02H300.8V504M301.8 504V471.3H303.8V504" fill="#fff" stroke="#8a8a8a" stroke-width="1"/>
<path d="M229.85 453.28h1.85V504h-1.85zM232.85 472.01h1.85V504h-1.85zM235.85 475.28h1.85V504h-1.85zM238.85 465.77h1.85V504h-1.85zM244.85 466.76h1.85V504h-1.85zM247.85 472.86h1.85V504h-1.85zM253.85 494.72h1.85V504h-1.85zM256.85 484.78h1.85V504h-1.85zM262.85 481.95h1.85V504h-1.85zM265.85 499.12h1.85V504h-1.85zM268.85 478.4h1.85V504h-1.85zM271.85 488.47h1.85V504h-1.85zM280.85 485.64h1.85V504h-1.85zM283.85 497.98h1.85V504h-1.85zM289.85 495.85h1.85V504h-1.85zM292.85 483.08h1.85V504h-1.85zM295.85 485.21h1.85V504h-1.85zM298.85 491.88h1.85V504h-1.85zM301.85 501.1h1.85V504h-1.85z" fill="#6283db"/>
<path d="M241.85 457.54h1.85V504h-1.85zM250.85 465.34h1.85V504h-1.85zM259.85 463.64h1.85V504h-1.85zM274.85 470.31h1.85V504h-1.85zM277.85 473.15h1.85V504h-1.85zM286.85 474.57h1.85V504h-1.85z" fill="#999999"/>
<path d="M319.4 504V433.13H321.4V504M322.4 504V436.25H324.4V504M325.4 504V438.38H327.4V504M328.4 504V443.35H330.4V504M331.4 504V448.03H333.4V504M334.4 504V448.31H336.4V504M337.4 504V448.6H339.4V504M340.4 504V450.44H342.4V504M343.4 504V451.15H345.4V504M346.4 504V455.41H348.4V504M349.4 504V455.41H351.4V504M352.4 504V456.83H354.4V504M355.4 504V458.53H357.4V504M358.4 504V458.96H360.4V504M361.4 504V459.38H363.4V504M364.4 504V459.38H366.4V504M367.4 504V459.95H369.4V504M370.4 504V461.37H372.4V504M373.4 504V461.8H375.4V504M376.4 504V462.22H378.4V504M379.4 504V462.5H381.4V504M382.4 504V463.21H384.4V504M385.4 504V463.36H387.4V504M388.4 504V463.36H390.4V504M391.4 504V463.36H393.4V504" fill="#fff" stroke="#8a8a8a" stroke-width="1"/>
<path d="M319.45 451.44h1.85V504h-1.85zM322.45 453h1.85V504h-1.85zM328.45 471.3h1.85V504h-1.85zM331.45 466.05h1.85V504h-1.85zM334.45 465.06h1.85V504h-1.85zM337.45 461.94h1.85V504h-1.85zM340.45 461.09h1.85V504h-1.85zM343.45 457.96h1.85V504h-1.85zM346.45 467.19h1.85V504h-1.85zM349.45 480.53h1.85V504h-1.85zM352.45 470.03h1.85V504h-1.85zM355.45 486.2h1.85V504h-1.85zM358.45 478.4h1.85V504h-1.85zM361.45 483.79h1.85V504h-1.85zM370.45 501.53h1.85V504h-1.85zM379.45 477.12h1.85V504h-1.85zM382.45 486.2h1.85V504h-1.85zM385.45 492.02h1.85V504h-1.85zM388.45 479.11h1.85V504h-1.85z" fill="#6283db"/>
<path d="M325.45 439.8h1.85V504h-1.85zM367.45 461.09h1.85V504h-1.85zM376.45 458.25h1.85V504h-1.85z" fill="#999999"/>
<path d="M364.45 454.27h1.85V504h-1.85zM373.45 452h1.85V504h-1.85zM391.45 451.15h1.85V504h-1.85z" fill="#f6a444"/>
<path d="M408.9 504V424.19H410.9V504M411.9 504V428.87H413.9V504M414.9 504V435.26H416.9V504M417.9 504V436.25H419.9V504M420.9 504V437.39H422.9V504M423.9 504V438.1H425.9V504M426.9 504V439.52H428.9V504M429.9 504V440.23H431.9V504M432.9 504V440.23H434.9V504M435.9 504V440.23H437.9V504M438.9 504V440.23H440.9V504M441.9 504V440.23H443.9V504M444.9 504V442.35H446.9V504M447.9 504V442.35H449.9V504M450.9 504V445.48H452.9V504M453.9 504V447.18H455.9V504M456.9 504V447.32H458.9V504M459.9 504V448.03H461.9V504M462.9 504V448.31H464.9V504M465.9 504V448.31H467.9V504M468.9 504V449.45H470.9V504M471.9 504V450.44H473.9V504M474.9 504V451.15H476.9V504M477.9 504V451.15H479.9V504M480.9 504V451.44H482.9V504" fill="#fff" stroke="#8a8a8a" stroke-width="1"/>
<path d="M408.95 451.15h1.85V504h-1.85zM411.95 454.27h1.85V504h-1.85zM414.95 451.15h1.85V504h-1.85zM417.95 455.84h1.85V504h-1.85zM420.95 455.69h1.85V504h-1.85zM423.95 449.02h1.85V504h-1.85zM426.95 450.16h1.85V504h-1.85zM429.95 447.18h1.85V504h-1.85zM432.95 447.6h1.85V504h-1.85zM435.95 448.03h1.85V504h-1.85zM438.95 448.74h1.85V504h-1.85zM444.95 468.89h1.85V504h-1.85zM447.95 449.73h1.85V504h-1.85zM450.95 501.1h1.85V504h-1.85zM453.95 459.95h1.85V504h-1.85zM456.95 456.12h1.85V504h-1.85zM459.95 463.5h1.85V504h-1.85zM462.95 460.8h1.85V504h-1.85zM465.95 456.83h1.85V504h-1.85zM468.95 458.96h1.85V504h-1.85zM471.95 461.09h1.85V504h-1.85zM474.95 468.89h1.85V504h-1.85zM477.95 480.95h1.85V504h-1.85zM480.95 471.02h1.85V504h-1.85z" fill="#6283db"/>
<path d="M441.95 441.22h1.85V504h-1.85z" fill="#999999"/>
<path d="M498.4 504V414.26H500.4V504M501.4 504V429.16H503.4V504M504.4 504V434.12H506.4V504M507.4 504V436.25H509.4V504M510.4 504V440.23H512.4V504M513.4 504V442.35H515.4V504M516.4 504V444.77H518.4V504M519.4 504V445.48H521.4V504M522.4 504V447.32H524.4V504M525.4 504V447.32H527.4V504M528.4 504V448.31H530.4V504M531.4 504V449.02H533.4V504M534.4 504V449.45H536.4V504M537.4 504V449.45H539.4V504M540.4 504V449.73H542.4V504M543.4 504V450.16H545.4V504M546.4 504V451.15H548.4V504M549.4 504V452.29H551.4V504M552.4 504V452.57H554.4V504M555.4 504V453H557.4V504M558.4 504V453.56H560.4V504M561.4 504V454.27H563.4V504M564.4 504V455.13H566.4V504M567.4 504V456.12H569.4V504M570.4 504V456.12H572.4V504" fill="#fff" stroke="#8a8a8a" stroke-width="1"/>
<path d="M498.45 435.83h1.85V504h-1.85zM501.45 450.02h1.85V504h-1.85zM504.45 451.15h1.85V504h-1.85zM507.45 448.03h1.85V504h-1.85zM510.45 453h1.85V504h-1.85zM513.45 450.02h1.85V504h-1.85zM516.45 465.63h1.85V504h-1.85zM519.45 458.96h1.85V504h-1.85zM522.45 474.28h1.85V504h-1.85zM525.45 457.11h1.85V504h-1.85zM528.45 465.77h1.85V504h-1.85zM531.45 458.53h1.85V504h-1.85zM534.45 467.05h1.85V504h-1.85zM537.45 466.76h1.85V504h-1.85zM540.45 473.15h1.85V504h-1.85zM543.45 472.86h1.85V504h-1.85zM546.45 490.18h1.85V504h-1.85zM549.45 500.11h1.85V504h-1.85zM552.45 463.21h1.85V504h-1.85zM555.45 459.95h1.85V504h-1.85zM558.45 468.89h1.85V504h-1.85zM564.45 479.96h1.85V504h-1.85zM567.45 482.09h1.85V504h-1.85zM570.45 482.09h1.85V504h-1.85z" fill="#6283db"/>
<path d="M561.45 451.15h1.85V504h-1.85z" fill="#999999"/>
<path d="M587.7 504V428.16H589.7V504M590.7 504V431.29H592.7V504M593.7 504V434.12H595.7V504M596.7 504V435.12H598.7V504M599.7 504V437.39H601.7V504M602.7 504V438.38H604.7V504M605.7 504V439.52H607.7V504M608.7 504V440.08H610.7V504M611.7 504V440.51H613.7V504M614.7 504V441.5H616.7V504M617.7 504V444.48H619.7V504M620.7 504V444.77H622.7V504M623.7 504V445.48H625.7V504M626.7 504V445.48H628.7V504M629.7 504V445.76H631.7V504M632.7 504V446.61H634.7V504M635.7 504V447.18H637.7V504M638.7 504V447.32H640.7V504M641.7 504V447.6H643.7V504M644.7 504V447.6H646.7V504M647.7 504V448.31H649.7V504M650.7 504V449.45H652.7V504M653.7 504V449.45H655.7V504M656.7 504V450.16H658.7V504M659.7 504V450.44H661.7V504" fill="#fff" stroke="#8a8a8a" stroke-width="1"/>
<path d="M587.75 433.13h1.85V504h-1.85zM590.75 448.03h1.85V504h-1.85zM593.75 443.35h1.85V504h-1.85zM596.75 458.25h1.85V504h-1.85zM599.75 444.77h1.85V504h-1.85zM602.75 448.31h1.85V504h-1.85zM605.75 453h1.85V504h-1.85zM608.75 469.6h1.85V504h-1.85zM611.75 450.44h1.85V504h-1.85zM614.75 456.12h1.85V504h-1.85zM617.75 465.06h1.85V504h-1.85zM620.75 449.73h1.85V504h-1.85zM623.75 476.98h1.85V504h-1.85zM626.75 461.8h1.85V504h-1.85zM629.75 476.98h1.85V504h-1.85zM632.75 501.1h1.85V504h-1.85zM635.75 459.95h1.85V504h-1.85zM638.75 458.96h1.85V504h-1.85zM641.75 465.06h1.85V504h-1.85zM647.75 458.96h1.85V504h-1.85zM650.75 466.05h1.85V504h-1.85zM653.75 473.15h1.85V504h-1.85zM656.75 486.2h1.85V504h-1.85zM659.75 464.92h1.85V504h-1.85z" fill="#6283db"/>
<path d="M644.75 436.96h1.85V504h-1.85z" fill="#f6a444"/>
<path d="M46.8,413.5 V504.2" stroke="#2a2a2a" stroke-width="1" fill="none"/>
<line x1="44.6" y1="430.6" x2="46.8" y2="430.6" stroke="#2a2a2a" stroke-width="1" />
<text x="42.1" y="436.8" font-size="11" fill="#111" text-anchor="end">10<tspan font-size="7.8" dy="-6.82">−1</tspan></text>
<line x1="44.6" y1="459.3" x2="46.8" y2="459.3" stroke="#2a2a2a" stroke-width="1" />
<text x="42.1" y="465.5" font-size="11" fill="#111" text-anchor="end">10<tspan font-size="7.8" dy="-6.82">−2</tspan></text>
<line x1="44.6" y1="488.3" x2="46.8" y2="488.3" stroke="#2a2a2a" stroke-width="1" />
<text x="42.1" y="494.5" font-size="11" fill="#111" text-anchor="end">10<tspan font-size="7.8" dy="-6.82">−3</tspan></text>
<path d="M45.6 503.01H46.8M45.6 499.42H46.8M45.6 496.64H46.8M45.6 494.37H46.8M45.6 492.45H46.8M45.6 490.78H46.8M45.6 489.31H46.8M45.6 479.36H46.8M45.6 474.31H46.8M45.6 470.72H46.8M45.6 467.94H46.8M45.6 465.67H46.8M45.6 463.75H46.8M45.6 462.08H46.8M45.6 460.61H46.8M45.6 450.66H46.8M45.6 445.61H46.8M45.6 442.02H46.8M45.6 439.24H46.8M45.6 436.97H46.8M45.6 435.05H46.8M45.6 433.38H46.8M45.6 431.91H46.8M45.6 421.96H46.8M45.6 416.91H46.8" stroke="#2a2a2a" stroke-width="0.6" fill="none"/>
<line x1="46.8" y1="504.2" x2="128.5" y2="504.2" stroke="#2a2a2a" stroke-width="1.2" />
<line x1="136.3" y1="504.2" x2="218.2" y2="504.2" stroke="#2a2a2a" stroke-width="1.2" />
<line x1="225.7" y1="504.2" x2="307.6" y2="504.2" stroke="#2a2a2a" stroke-width="1.2" />
<line x1="315.3" y1="504.2" x2="397.2" y2="504.2" stroke="#2a2a2a" stroke-width="1.2" />
<line x1="404.8" y1="504.2" x2="486.7" y2="504.2" stroke="#2a2a2a" stroke-width="1.2" />
<line x1="494.3" y1="504.2" x2="576.2" y2="504.2" stroke="#2a2a2a" stroke-width="1.2" />
<line x1="583.6" y1="504.2" x2="665.5" y2="504.2" stroke="#2a2a2a" stroke-width="1.2" />
<text x="87.15" y="523.4" font-size="10.7" fill="#111" text-anchor="middle" font-weight="normal" font-style="normal" >Mouse 1</text>
<text x="176.75" y="523.4" font-size="10.7" fill="#111" text-anchor="middle" font-weight="normal" font-style="normal" >Mouse 2</text>
<text x="266.15" y="523.4" font-size="10.7" fill="#111" text-anchor="middle" font-weight="normal" font-style="normal" >Mouse 3</text>
<text x="355.75" y="523.4" font-size="10.7" fill="#111" text-anchor="middle" font-weight="normal" font-style="normal" >Mouse 4</text>
<text x="445.25" y="523.4" font-size="10.7" fill="#111" text-anchor="middle" font-weight="normal" font-style="normal" >Mouse 5</text>
<text x="534.75" y="523.4" font-size="10.7" fill="#111" text-anchor="middle" font-weight="normal" font-style="normal" >Mouse 6</text>
<text x="624.05" y="523.4" font-size="10.7" fill="#111" text-anchor="middle" font-weight="normal" font-style="normal" >Mouse 7</text>
<text x="9.3" y="458.5" font-size="10.8" fill="#111" text-anchor="middle" transform="rotate(-90 9.3 458.5)">Frequency</text>
<text x="606.7" y="394.2" font-size="9.9" fill="#f7901e" text-anchor="start" font-weight="normal" font-style="normal" >Expanding clone</text>
<text x="606.7" y="405.9" font-size="9.9" fill="#a0a0a0" text-anchor="start" font-weight="normal" font-style="normal" >Stable clone</text>
<text x="606.7" y="417.7" font-size="9.9" fill="#4a6fe3" text-anchor="start" font-weight="normal" font-style="normal" >Contracting clone</text>
<text x="0.9" y="547.3" font-size="14.5" fill="#000" text-anchor="start" font-weight="bold" font-style="normal" >f</text>
<text x="26.3" y="545.5" font-size="10.0" fill="#111" text-anchor="start" font-weight="normal" font-style="normal" >Top 25 largest clones (Day 21)</text>
<path d="M54.1 606.16h3V658.2h-3zM57.1 606.16h3V658.2h-3zM63.1 609.05h3V658.2h-3zM69.1 614.12h3V658.2h-3zM75.1 617.02h3V658.2h-3zM78.1 617.74h3V658.2h-3zM81.1 620.2h3V658.2h-3zM93.1 624.26h3V658.2h-3zM99.1 624.98h3V658.2h-3zM102.1 624.98h3V658.2h-3zM120.1 628.16h3V658.2h-3z" fill="#fde3c5"/>
<path d="M51.6 597.91h2V658.2h-2zM60.6 608.33h2V658.2h-2zM66.6 614.12h2V658.2h-2zM72.6 614.84h2V658.2h-2zM87.6 621.07h2V658.2h-2zM90.6 623.1h2V658.2h-2zM96.6 624.26h2V658.2h-2zM108.6 627.15h2V658.2h-2zM111.6 627.88h2V658.2h-2zM117.6 628.16h2V658.2h-2zM123.6 628.6h2V658.2h-2z" fill="#6283db"/>
<path d="M84.6 624.26h2V658.2h-2zM105.6 625.27h2V658.2h-2zM114.6 627.88h2V658.2h-2z" fill="#999999"/>
<path d="M54.6 606.16h1.8V658.2h-1.8zM57.6 606.16h1.8V658.2h-1.8zM63.6 609.05h1.8V658.2h-1.8zM69.6 614.12h1.8V658.2h-1.8zM75.6 617.02h1.8V658.2h-1.8zM78.6 617.74h1.8V658.2h-1.8zM81.6 620.2h1.8V658.2h-1.8zM93.6 624.26h1.8V658.2h-1.8zM99.6 624.98h1.8V658.2h-1.8zM102.6 624.98h1.8V658.2h-1.8zM120.6 628.16h1.8V658.2h-1.8z" fill="#f6a444"/>
<path d="M51.6 658.2V583.28H53.6V658.2M54.6 658.2V613.83H56.6V658.2M57.6 658.2V612.67H59.6V658.2M60.6 658.2V589.22H62.6V658.2M63.6 658.2V624.98H65.6V658.2M66.6 658.2V586.61H68.6V658.2M69.6 658.2V644.24H71.6V658.2M72.6 658.2V608.62H74.6V658.2M75.6 658.2V654.08H77.6V658.2M78.6 658.2V636.27H80.6V658.2M81.6 658.2V642.06H83.6V658.2M84.6 658.2V620.35H86.6V658.2M87.6 658.2V601.81H89.6V658.2M90.6 658.2V608.33H92.6V658.2M93.6 658.2V654.66H95.6V658.2M96.6 658.2V604.28H98.6V658.2M105.6 658.2V625.27H107.6V658.2M108.6 658.2V612.24H110.6V658.2M111.6 658.2V613.11H113.6V658.2M114.6 658.2V625.27H116.6V658.2M117.6 658.2V613.4H119.6V658.2M123.6 658.2V620.2H125.6V658.2" fill="none" stroke="#8a8a8a" stroke-opacity="0.85" stroke-width="1"/>
<path d="M140.2 580.82h3V658.2h-3zM179.2 622.08h3V658.2h-3zM182.2 622.81h3V658.2h-3zM188.2 623.97h3V658.2h-3zM200.2 625.27h3V658.2h-3zM203.2 625.27h3V658.2h-3zM206.2 625.7h3V658.2h-3zM212.2 627.88h3V658.2h-3z" fill="#fde3c5"/>
<path d="M143.7 584.44h2V658.2h-2zM146.7 600.37h2V658.2h-2zM149.7 606.16h2V658.2h-2zM155.7 611.23h2V658.2h-2zM158.7 611.95h2V658.2h-2zM161.7 616.29h2V658.2h-2zM167.7 619.19h2V658.2h-2zM173.7 621.36h2V658.2h-2zM185.7 623.53h2V658.2h-2z" fill="#6283db"/>
<path d="M152.7 608.33h2V658.2h-2zM164.7 617.74h2V658.2h-2zM170.7 621.07h2V658.2h-2zM176.7 622.08h2V658.2h-2zM191.7 623.1h2V658.2h-2zM194.7 624.69h2V658.2h-2zM197.7 625.27h2V658.2h-2zM209.7 628.89h2V658.2h-2z" fill="#999999"/>
<path d="M140.7 580.82h1.8V658.2h-1.8zM179.7 622.08h1.8V658.2h-1.8zM182.7 622.81h1.8V658.2h-1.8zM188.7 623.97h1.8V658.2h-1.8zM200.7 625.27h1.8V658.2h-1.8zM203.7 625.27h1.8V658.2h-1.8zM206.7 625.7h1.8V658.2h-1.8zM212.7 627.88h1.8V658.2h-1.8z" fill="#f6a444"/>
<path d="M140.7 658.2V584.88H142.7V658.2M143.7 658.2V578.36H145.7V658.2M146.7 658.2V594.58H148.7V658.2M149.7 658.2V589.51H151.7V658.2M152.7 658.2V606.59H154.7V658.2M155.7 658.2V601.38H157.7V658.2M158.7 658.2V596.46H160.7V658.2M161.7 658.2V609.34H163.7V658.2M164.7 658.2V617.74H166.7V658.2M167.7 658.2V601.38H169.7V658.2M170.7 658.2V621.07H172.7V658.2M173.7 658.2V609.34H175.7V658.2M176.7 658.2V617.45H178.7V658.2M179.7 658.2V631.49H181.7V658.2M185.7 658.2V596.02H187.7V658.2M191.7 658.2V623.1H193.7V658.2M194.7 658.2V617.45H196.7V658.2M197.7 658.2V620.35H199.7V658.2M206.7 658.2V653.94H208.7V658.2M209.7 658.2V626.14H211.7V658.2" fill="none" stroke="#8a8a8a" stroke-opacity="0.85" stroke-width="1"/>
<path d="M230.2 590.38h3V658.2h-3zM233.2 590.96h3V658.2h-3zM236.2 598.2h3V658.2h-3zM242.2 599.35h3V658.2h-3zM245.2 600.37h3V658.2h-3zM248.2 601.09h3V658.2h-3zM251.2 602.97h3V658.2h-3zM257.2 603.99h3V658.2h-3zM260.2 605h3V658.2h-3zM266.2 606.16h3V658.2h-3zM275.2 608.33h3V658.2h-3zM281.2 609.05h3V658.2h-3zM284.2 609.05h3V658.2h-3zM287.2 609.34h3V658.2h-3zM290.2 610.5h3V658.2h-3zM293.2 610.5h3V658.2h-3zM296.2 610.94h3V658.2h-3zM299.2 611.23h3V658.2h-3z" fill="#fde3c5"/>
<path d="M239.7 598.2h2V658.2h-2zM272.7 608.04h2V658.2h-2zM278.7 608.62h2V658.2h-2z" fill="#6283db"/>
<path d="M254.7 603.99h2V658.2h-2zM263.7 605.14h2V658.2h-2zM269.7 606.16h2V658.2h-2zM302.7 611.23h2V658.2h-2z" fill="#999999"/>
<path d="M230.7 590.38h1.8V658.2h-1.8zM233.7 590.96h1.8V658.2h-1.8zM236.7 598.2h1.8V658.2h-1.8zM242.7 599.35h1.8V658.2h-1.8zM245.7 600.37h1.8V658.2h-1.8zM248.7 601.09h1.8V658.2h-1.8zM251.7 602.97h1.8V658.2h-1.8zM257.7 603.99h1.8V658.2h-1.8zM260.7 605h1.8V658.2h-1.8zM266.7 606.16h1.8V658.2h-1.8zM275.7 608.33h1.8V658.2h-1.8zM281.7 609.05h1.8V658.2h-1.8zM284.7 609.05h1.8V658.2h-1.8zM287.7 609.34h1.8V658.2h-1.8zM290.7 610.5h1.8V658.2h-1.8zM293.7 610.5h1.8V658.2h-1.8zM296.7 610.94h1.8V658.2h-1.8zM299.7 611.23h1.8V658.2h-1.8z" fill="#f6a444"/>
<path d="M230.7 658.2V624.26H232.7V658.2M233.7 658.2V635.11H235.7V658.2M239.7 658.2V578.36H241.7V658.2M242.7 658.2V650.03H244.7V658.2M248.7 658.2V622.08H250.7V658.2M251.7 658.2V649.16H253.7V658.2M254.7 658.2V600.66H256.7V658.2M263.7 658.2V605.14H265.7V658.2M269.7 658.2V603.55H271.7V658.2M272.7 658.2V600.37H274.7V658.2M275.7 658.2V639.17H277.7V658.2M278.7 658.2V601.09H280.7V658.2M281.7 658.2V654.23H283.7V658.2M284.7 658.2V614.12H286.7V658.2M293.7 658.2V627.15H295.7V658.2M299.7 658.2V641.2H301.7V658.2M302.7 658.2V608.62H304.7V658.2" fill="none" stroke="#8a8a8a" stroke-opacity="0.85" stroke-width="1"/>
<path d="M322.5 610.21h3V658.2h-3zM328.5 611.23h3V658.2h-3zM334.5 613.11h3V658.2h-3zM337.5 615.86h3V658.2h-3zM379.5 629.32h3V658.2h-3zM382.5 631.93h3V658.2h-3zM391.5 632.94h3V658.2h-3z" fill="#fde3c5"/>
<path d="M326 610.94h2V658.2h-2zM332 612.67h2V658.2h-2zM344 618.03h2V658.2h-2zM347 621.79h2V658.2h-2zM350 622.81h2V658.2h-2zM356 626.14h2V658.2h-2zM365 627.59h2V658.2h-2zM374 629.03h2V658.2h-2zM386 632.22h2V658.2h-2z" fill="#6283db"/>
<path d="M320 598.2h2V658.2h-2zM341 622.81h2V658.2h-2zM353 624.26h2V658.2h-2zM359 627.15h2V658.2h-2zM362 626.72h2V658.2h-2zM368 630.05h2V658.2h-2zM371 635.84h2V658.2h-2zM377 628.89h2V658.2h-2zM389 632.94h2V658.2h-2z" fill="#999999"/>
<path d="M323 610.21h1.8V658.2h-1.8zM329 611.23h1.8V658.2h-1.8zM335 613.11h1.8V658.2h-1.8zM338 615.86h1.8V658.2h-1.8zM380 629.32h1.8V658.2h-1.8zM383 631.93h1.8V658.2h-1.8zM392 632.94h1.8V658.2h-1.8z" fill="#f6a444"/>
<path d="M320 658.2V595.3H322V658.2M323 658.2V624.26H325V658.2M326 658.2V589.51H328V658.2M329 658.2V622.52H331V658.2M332 658.2V593.42H334V658.2M335 658.2V619.19H337V658.2M338 658.2V626.14H340V658.2M341 658.2V618.17H343V658.2M344 658.2V610.21H346V658.2M347 658.2V609.34H349V658.2M350 658.2V607.32H352V658.2M353 658.2V620.35H355V658.2M356 658.2V607.32H358V658.2M359 658.2V627.15H361V658.2M362 658.2V626.72H364V658.2M365 658.2V606.45H367V658.2M368 658.2V628.6H370V658.2M371 658.2V629.32H373V658.2M374 658.2V615.28H376V658.2M377 658.2V628.89H379V658.2M380 658.2V654.66H382V658.2M386 658.2V616.73H388V658.2M389 658.2V627.15H391V658.2M392 658.2V643.08H394V658.2" fill="none" stroke="#8a8a8a" stroke-opacity="0.85" stroke-width="1"/>
<path d="M412.3 607.61h3V658.2h-3zM415.3 609.05h3V658.2h-3zM418.3 610.21h3V658.2h-3zM430.3 616.29h3V658.2h-3zM451.3 620.64h3V658.2h-3zM460.3 623.24h3V658.2h-3zM463.3 623.53h3V658.2h-3zM469.3 624.26h3V658.2h-3z" fill="#fde3c5"/>
<path d="M421.8 614.12h2V658.2h-2zM424.8 615.13h2V658.2h-2zM427.8 615.86h2V658.2h-2zM433.8 616.58h2V658.2h-2zM436.8 617.02h2V658.2h-2zM439.8 618.03h2V658.2h-2zM442.8 618.17h2V658.2h-2zM445.8 619.91h2V658.2h-2zM448.8 620.2h2V658.2h-2zM472.8 624.55h2V658.2h-2zM475.8 626.43h2V658.2h-2zM478.8 626.86h2V658.2h-2zM481.8 627.44h2V658.2h-2z" fill="#6283db"/>
<path d="M409.8 606.16h2V658.2h-2zM454.8 621.36h2V658.2h-2zM457.8 623.24h2V658.2h-2zM466.8 631.21h2V658.2h-2z" fill="#999999"/>
<path d="M412.8 607.61h1.8V658.2h-1.8zM415.8 609.05h1.8V658.2h-1.8zM418.8 610.21h1.8V658.2h-1.8zM430.8 616.29h1.8V658.2h-1.8zM451.8 620.64h1.8V658.2h-1.8zM460.8 623.24h1.8V658.2h-1.8zM463.8 623.53h1.8V658.2h-1.8zM469.8 624.26h1.8V658.2h-1.8z" fill="#f6a444"/>
<path d="M409.8 658.2V604.71H411.8V658.2M412.8 658.2V630.48H414.8V658.2M415.8 658.2V638.3H417.8V658.2M421.8 658.2V605.14H423.8V658.2M424.8 658.2V605.14H426.8V658.2M427.8 658.2V605.14H429.8V658.2M430.8 658.2V631.21H432.8V658.2M433.8 658.2V605.14H435.8V658.2M436.8 658.2V601.53H438.8V658.2M439.8 658.2V608.33H441.8V658.2M442.8 658.2V604.28H444.8V658.2M445.8 658.2V582.56H447.8V658.2M448.8 658.2V598.2H450.8V658.2M454.8 658.2V621.07H456.8V658.2M457.8 658.2V623.24H459.8V658.2M460.8 658.2V652.78H462.8V658.2M466.8 658.2V624.26H468.8V658.2M469.8 658.2V654.23H471.8V658.2M472.8 658.2V589.07H474.8V658.2M475.8 658.2V601.38H477.8V658.2M478.8 658.2V599.93H480.8V658.2M481.8 658.2V614.41H483.8V658.2" fill="none" stroke="#8a8a8a" stroke-opacity="0.85" stroke-width="1"/>
<path d="M501.3 597.18h3V658.2h-3zM537.3 611.95h3V658.2h-3zM546.3 613.4h3V658.2h-3zM555.3 614.41h3V658.2h-3z" fill="#fde3c5"/>
<path d="M498.8 587.34h2V658.2h-2zM504.8 598.92h2V658.2h-2zM507.8 600.37h2V658.2h-2zM510.8 600.8h2V658.2h-2zM513.8 601.09h2V658.2h-2zM519.8 602.97h2V658.2h-2zM522.8 606.88h2V658.2h-2zM525.8 608.04h2V658.2h-2zM528.8 608.04h2V658.2h-2zM531.8 609.05h2V658.2h-2zM543.8 612.38h2V658.2h-2zM549.8 613.83h2V658.2h-2zM558.8 614.56h2V658.2h-2zM561.8 614.56h2V658.2h-2zM570.8 615.57h2V658.2h-2z" fill="#6283db"/>
<path d="M516.8 603.99h2V658.2h-2zM534.8 611.23h2V658.2h-2zM540.8 611.95h2V658.2h-2zM552.8 614.12h2V658.2h-2zM564.8 615.13h2V658.2h-2zM567.8 615.57h2V658.2h-2z" fill="#999999"/>
<path d="M501.8 597.18h1.8V658.2h-1.8zM537.8 611.95h1.8V658.2h-1.8zM546.8 613.4h1.8V658.2h-1.8zM555.8 614.41h1.8V658.2h-1.8z" fill="#f6a444"/>
<path d="M498.8 658.2V567.79H500.8V658.2M501.8 658.2V606.59H503.8V658.2M504.8 658.2V587.63H506.8V658.2M507.8 658.2V593.13H509.8V658.2M510.8 658.2V581.26H512.8V658.2M513.8 658.2V585.6H515.8V658.2M516.8 658.2V601.81H518.8V658.2M519.8 658.2V591.68H521.8V658.2M522.8 658.2V597.91H524.8V658.2M525.8 658.2V599.35H527.8V658.2M528.8 658.2V596.31H530.8V658.2M531.8 658.2V603.26H533.8V658.2M534.8 658.2V610.94H536.8V658.2M537.8 658.2V653.94H539.8V658.2M540.8 658.2V607.61H542.8V658.2M543.8 658.2V602.97H545.8V658.2M549.8 658.2V608.04H551.8V658.2M552.8 658.2V611.66H554.8V658.2M555.8 658.2V627.88H557.8V658.2M558.8 658.2V595.3H560.8V658.2M561.8 658.2V598.2H563.8V658.2M564.8 658.2V615.13H566.8V658.2M567.8 658.2V612.38H569.8V658.2M570.8 658.2V600.08H572.8V658.2" fill="none" stroke="#8a8a8a" stroke-opacity="0.85" stroke-width="1"/>
<path d="M591.1 592.84h3V658.2h-3zM615.1 612.24h3V658.2h-3zM618.1 612.24h3V658.2h-3zM630.1 616.29h3V658.2h-3zM633.1 616.29h3V658.2h-3zM648.1 617.45h3V658.2h-3zM657.1 619.19h3V658.2h-3z" fill="#fde3c5"/>
<path d="M588.6 588.78h2V658.2h-2zM594.6 599.93h2V658.2h-2zM597.6 601.81h2V658.2h-2zM600.6 605h2V658.2h-2zM603.6 605.87h2V658.2h-2zM606.6 607.17h2V658.2h-2zM609.6 608.04h2V658.2h-2zM612.6 611.23h2V658.2h-2zM624.6 614.41h2V658.2h-2zM627.6 615.28h2V658.2h-2zM636.6 616.73h2V658.2h-2zM642.6 617.02h2V658.2h-2zM645.6 617.31h2V658.2h-2zM651.6 617.74h2V658.2h-2zM654.6 618.75h2V658.2h-2z" fill="#6283db"/>
<path d="M621.6 612.67h2V658.2h-2zM639.6 616.29h2V658.2h-2zM660.6 619.19h2V658.2h-2z" fill="#999999"/>
<path d="M591.6 592.84h1.8V658.2h-1.8zM615.6 612.24h1.8V658.2h-1.8zM618.6 612.24h1.8V658.2h-1.8zM630.6 616.29h1.8V658.2h-1.8zM633.6 616.29h1.8V658.2h-1.8zM648.6 617.45h1.8V658.2h-1.8zM657.6 619.19h1.8V658.2h-1.8z" fill="#f6a444"/>
<path d="M588.6 658.2V583.43H590.6V658.2M591.6 658.2V605H593.6V658.2M594.6 658.2V589.51H596.6V658.2M597.6 658.2V593.56H599.6V658.2M600.6 658.2V586.9H602.6V658.2M603.6 658.2V594.29H605.6V658.2M606.6 658.2V602.25H608.6V658.2M609.6 658.2V596.75H611.6V658.2M612.6 658.2V596.02H614.6V658.2M618.6 658.2V631.21H620.6V658.2M621.6 658.2V611.66H623.6V658.2M624.6 658.2V597.91H626.6V658.2M627.6 658.2V609.78H629.6V658.2M630.6 658.2V654.23H632.6V658.2M636.6 658.2V590.96H638.6V658.2M639.6 658.2V615.28H641.6V658.2M642.6 658.2V610.5H644.6V658.2M645.6 658.2V605.43H647.6V658.2M648.6 658.2V640.47H650.6V658.2M651.6 658.2V604.42H653.6V658.2M654.6 658.2V604.42H656.6V658.2M660.6 658.2V614.12H662.6V658.2" fill="none" stroke="#8a8a8a" stroke-opacity="0.85" stroke-width="1"/>
<path d="M47.6,566.4 V658.3" stroke="#2a2a2a" stroke-width="1" fill="none"/>
<line x1="45.4" y1="583" x2="47.6" y2="583" stroke="#2a2a2a" stroke-width="1" />
<text x="42.9" y="589.2" font-size="11" fill="#111" text-anchor="end">10<tspan font-size="7.8" dy="-6.82">−1</tspan></text>
<line x1="45.4" y1="609.8" x2="47.6" y2="609.8" stroke="#2a2a2a" stroke-width="1" />
<text x="42.9" y="616" font-size="11" fill="#111" text-anchor="end">10<tspan font-size="7.8" dy="-6.82">−2</tspan></text>
<line x1="45.4" y1="636.3" x2="47.6" y2="636.3" stroke="#2a2a2a" stroke-width="1" />
<text x="42.9" y="642.5" font-size="11" fill="#111" text-anchor="end">10<tspan font-size="7.8" dy="-6.82">−3</tspan></text>
<path d="M46.4 655.33H47.6M46.4 650.61H47.6M46.4 647.26H47.6M46.4 644.67H47.6M46.4 642.55H47.6M46.4 640.75H47.6M46.4 639.2H47.6M46.4 637.83H47.6M46.4 628.53H47.6M46.4 623.81H47.6M46.4 620.46H47.6M46.4 617.87H47.6M46.4 615.75H47.6M46.4 613.95H47.6M46.4 612.4H47.6M46.4 611.03H47.6M46.4 601.73H47.6M46.4 597.01H47.6M46.4 593.66H47.6M46.4 591.07H47.6M46.4 588.95H47.6M46.4 587.15H47.6M46.4 585.6H47.6M46.4 584.23H47.6M46.4 574.93H47.6M46.4 570.21H47.6M46.4 566.86H47.6" stroke="#2a2a2a" stroke-width="0.6" fill="none"/>
<line x1="47.6" y1="658.3" x2="128.6" y2="658.3" stroke="#2a2a2a" stroke-width="1.2" />
<line x1="136.6" y1="658.3" x2="217.7" y2="658.3" stroke="#2a2a2a" stroke-width="1.2" />
<line x1="226.6" y1="658.3" x2="307.7" y2="658.3" stroke="#2a2a2a" stroke-width="1.2" />
<line x1="315.9" y1="658.3" x2="397" y2="658.3" stroke="#2a2a2a" stroke-width="1.2" />
<line x1="405.7" y1="658.3" x2="486.8" y2="658.3" stroke="#2a2a2a" stroke-width="1.2" />
<line x1="494.7" y1="658.3" x2="575.8" y2="658.3" stroke="#2a2a2a" stroke-width="1.2" />
<line x1="584.5" y1="658.3" x2="665.6" y2="658.3" stroke="#2a2a2a" stroke-width="1.2" />
<text x="87.6" y="677" font-size="10.7" fill="#111" text-anchor="middle" font-weight="normal" font-style="normal" >Mouse 1</text>
<text x="176.65" y="677" font-size="10.7" fill="#111" text-anchor="middle" font-weight="normal" font-style="normal" >Mouse 2</text>
<text x="266.65" y="677" font-size="10.7" fill="#111" text-anchor="middle" font-weight="normal" font-style="normal" >Mouse 3</text>
<text x="355.95" y="677" font-size="10.7" fill="#111" text-anchor="middle" font-weight="normal" font-style="normal" >Mouse 4</text>
<text x="445.75" y="677" font-size="10.7" fill="#111" text-anchor="middle" font-weight="normal" font-style="normal" >Mouse 5</text>
<text x="534.75" y="677" font-size="10.7" fill="#111" text-anchor="middle" font-weight="normal" font-style="normal" >Mouse 6</text>
<text x="624.55" y="677" font-size="10.7" fill="#111" text-anchor="middle" font-weight="normal" font-style="normal" >Mouse 7</text>
<text x="9.8" y="613" font-size="10.6" fill="#111" text-anchor="middle" transform="rotate(-90 9.8 613)">Frequency</text>
<text x="607.5" y="544" font-size="9.9" fill="#f7901e" text-anchor="start" font-weight="normal" font-style="normal" >Expanding clone</text>
<text x="607.5" y="555.9" font-size="9.9" fill="#a0a0a0" text-anchor="start" font-weight="normal" font-style="normal" >Stable clone</text>
<text x="607.5" y="567.8" font-size="9.9" fill="#4a6fe3" text-anchor="start" font-weight="normal" font-style="normal" >Contracting clone</text></svg></body></html>
